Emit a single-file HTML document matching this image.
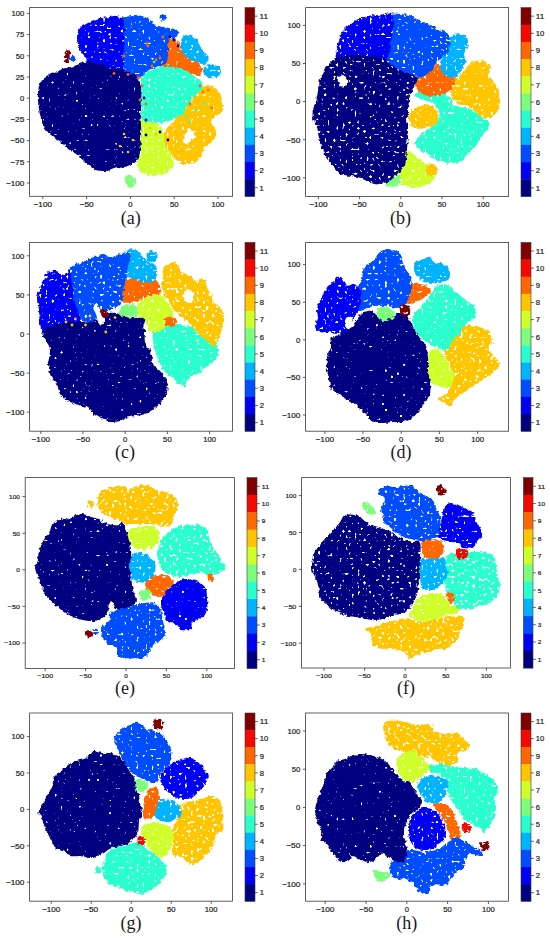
<!DOCTYPE html>
<html><head><meta charset="utf-8"><title>t-SNE</title>
<style>html,body{margin:0;padding:0;background:#fff;width:550px;height:938px;overflow:hidden}
svg{display:block}</style></head><body>
<svg width="550" height="938" viewBox="0 0 550 938" font-family="Liberation Sans, sans-serif" fill="#1e1e1e">
<defs><filter id="r0" x="-30%" y="-30%" width="160%" height="160%" color-interpolation-filters="sRGB">
<feTurbulence type="fractalNoise" baseFrequency="0.28" numOctaves="2" seed="7" result="n"/>
<feDisplacementMap in="SourceGraphic" in2="n" scale="4.5" xChannelSelector="R" yChannelSelector="G" result="d"/>
<feTurbulence type="fractalNoise" baseFrequency="0.33" numOctaves="1" seed="19" result="n2"/>
<feColorMatrix in="n2" type="matrix" values="0 0 0 0 0  0 0 0 0 0  0 0 0 0 0  0 0 0 -14 10.70" result="m"/>
<feComposite in="d" in2="m" operator="in" result="c"/>
<feGaussianBlur in="c" stdDeviation="0.35"/>
</filter><filter id="r1" x="-30%" y="-30%" width="160%" height="160%" color-interpolation-filters="sRGB">
<feTurbulence type="fractalNoise" baseFrequency="0.28" numOctaves="2" seed="7" result="n"/>
<feDisplacementMap in="SourceGraphic" in2="n" scale="4.5" xChannelSelector="R" yChannelSelector="G" result="d"/>
<feTurbulence type="fractalNoise" baseFrequency="0.33" numOctaves="1" seed="23" result="n2"/>
<feColorMatrix in="n2" type="matrix" values="0 0 0 0 0  0 0 0 0 0  0 0 0 0 0  0 0 0 -14 10.10" result="m"/>
<feComposite in="d" in2="m" operator="in" result="c"/>
<feGaussianBlur in="c" stdDeviation="0.35"/>
</filter><filter id="r2" x="-30%" y="-30%" width="160%" height="160%" color-interpolation-filters="sRGB">
<feTurbulence type="fractalNoise" baseFrequency="0.28" numOctaves="2" seed="7" result="n"/>
<feDisplacementMap in="SourceGraphic" in2="n" scale="4.5" xChannelSelector="R" yChannelSelector="G" result="d"/>
<feTurbulence type="fractalNoise" baseFrequency="0.33" numOctaves="1" seed="29" result="n2"/>
<feColorMatrix in="n2" type="matrix" values="0 0 0 0 0  0 0 0 0 0  0 0 0 0 0  0 0 0 -14 9.50" result="m"/>
<feComposite in="d" in2="m" operator="in" result="c"/>
<feGaussianBlur in="c" stdDeviation="0.35"/>
</filter></defs>
<clipPath id="clipa"><rect x="29.6" y="7.6" width="203.0" height="188.7"/></clipPath>
<g clip-path="url(#clipa)">
<path d="M180.0,102.0C181.7,99.5 185.5,99.0 188.0,97.0C190.5,95.0 192.5,91.8 195.0,90.0C197.5,88.2 200.2,86.7 203.0,86.0C205.8,85.3 209.3,85.0 212.0,86.0C214.7,87.0 217.3,89.7 219.0,92.0C220.7,94.3 221.3,97.7 222.0,100.0C222.7,102.3 223.2,103.8 223.0,106.0C222.8,108.2 223.0,110.5 221.0,113.0C219.0,115.5 212.0,118.5 211.0,121.0C210.0,123.5 214.2,125.7 215.0,128.0C215.8,130.3 216.5,132.7 216.0,135.0C215.5,137.3 213.8,139.8 212.0,142.0C210.2,144.2 207.0,145.5 205.0,148.0C203.0,150.5 202.0,154.5 200.0,157.0C198.0,159.5 196.2,161.8 193.0,163.0C189.8,164.2 184.2,165.0 181.0,164.0C177.8,163.0 176.0,159.2 174.0,157.0C172.0,154.8 170.7,153.0 169.0,151.0C167.3,149.0 165.0,147.3 164.0,145.0C163.0,142.7 162.5,139.8 163.0,137.0C163.5,134.2 165.2,130.7 167.0,128.0C168.8,125.3 172.2,123.7 174.0,121.0C175.8,118.3 177.0,115.2 178.0,112.0C179.0,108.8 178.3,104.5 180.0,102.0Z" fill="#ffc600" filter="url(#r1)"/>
<path d="M188.0,128.0C188.8,127.8 190.8,129.5 192.0,131.0C193.2,132.5 195.0,135.5 195.0,137.0C195.0,138.5 193.3,138.8 192.0,140.0C190.7,141.2 188.5,143.7 187.0,144.0C185.5,144.3 183.5,143.3 183.0,142.0C182.5,140.7 183.3,137.7 184.0,136.0C184.7,134.3 186.3,133.3 187.0,132.0C187.7,130.7 187.2,128.2 188.0,128.0Z" fill="#ffffff" filter="url(#r0)"/>
<path d="M140.0,120.0C142.0,117.5 146.7,120.0 150.0,121.0C153.3,122.0 157.7,123.8 160.0,126.0C162.3,128.2 163.2,131.0 164.0,134.0C164.8,137.0 164.0,141.0 165.0,144.0C166.0,147.0 168.7,149.3 170.0,152.0C171.3,154.7 172.7,157.3 173.0,160.0C173.3,162.7 173.2,165.8 172.0,168.0C170.8,170.2 168.3,171.8 166.0,173.0C163.7,174.2 160.7,174.7 158.0,175.0C155.3,175.3 152.7,175.3 150.0,175.0C147.3,174.7 144.0,174.5 142.0,173.0C140.0,171.5 138.7,169.8 138.0,166.0C137.3,162.2 138.0,155.0 138.0,150.0C138.0,145.0 137.7,141.0 138.0,136.0C138.3,131.0 138.0,122.5 140.0,120.0Z" fill="#ceff29" filter="url(#r1)"/>
<path d="M144.0,74.0C145.8,71.7 149.0,71.5 152.0,70.0C155.0,68.5 159.0,65.8 162.0,65.0C165.0,64.2 167.0,64.5 170.0,65.0C173.0,65.5 176.7,66.7 180.0,68.0C183.3,69.3 187.0,71.2 190.0,73.0C193.0,74.8 195.8,77.2 198.0,79.0C200.2,80.8 202.8,81.8 203.0,84.0C203.2,86.2 200.8,89.3 199.0,92.0C197.2,94.7 193.8,97.7 192.0,100.0C190.2,102.3 189.3,104.0 188.0,106.0C186.7,108.0 185.2,110.5 184.0,112.0C182.8,113.5 183.0,113.7 181.0,115.0C179.0,116.3 175.5,118.7 172.0,120.0C168.5,121.3 163.7,122.7 160.0,123.0C156.3,123.3 153.0,122.5 150.0,122.0C147.0,121.5 143.5,123.7 142.0,120.0C140.5,116.3 141.2,106.0 141.0,100.0C140.8,94.0 140.5,88.3 141.0,84.0C141.5,79.7 142.2,76.3 144.0,74.0Z" fill="#29ffce" filter="url(#r1)"/>
<path d="M167.0,40.0C168.3,38.7 172.8,38.2 175.0,39.0C177.2,39.8 178.3,42.8 180.0,45.0C181.7,47.2 183.0,49.8 185.0,52.0C187.0,54.2 189.7,56.0 192.0,58.0C194.3,60.0 197.3,62.0 199.0,64.0C200.7,66.0 202.0,68.0 202.0,70.0C202.0,72.0 200.8,75.5 199.0,76.0C197.2,76.5 193.8,74.2 191.0,73.0C188.2,71.8 184.8,70.0 182.0,69.0C179.2,68.0 176.7,67.5 174.0,67.0C171.3,66.5 168.3,66.2 166.0,66.0C163.7,65.8 160.5,67.0 160.0,66.0C159.5,65.0 162.0,62.0 163.0,60.0C164.0,58.0 165.3,56.2 166.0,54.0C166.7,51.8 166.8,49.3 167.0,47.0C167.2,44.7 165.7,41.3 167.0,40.0Z" fill="#ff6800" filter="url(#r1)"/>
<path d="M184.0,36.0C185.7,34.7 188.8,34.5 191.0,35.0C193.2,35.5 195.5,37.2 197.0,39.0C198.5,40.8 198.8,43.8 200.0,46.0C201.2,48.2 202.7,50.3 204.0,52.0C205.3,53.7 207.3,54.3 208.0,56.0C208.7,57.7 208.8,60.7 208.0,62.0C207.2,63.3 205.2,64.0 203.0,64.0C200.8,64.0 197.5,63.0 195.0,62.0C192.5,61.0 190.2,59.7 188.0,58.0C185.8,56.3 183.2,54.5 182.0,52.0C180.8,49.5 180.7,45.7 181.0,43.0C181.3,40.3 182.3,37.3 184.0,36.0Z" fill="#00b3ff" filter="url(#r1)"/>
<path d="M204.0,67.0C205.2,65.8 207.7,65.2 210.0,65.0C212.3,64.8 216.2,64.8 218.0,66.0C219.8,67.2 221.3,70.0 221.0,72.0C220.7,74.0 218.2,77.2 216.0,78.0C213.8,78.8 210.2,78.0 208.0,77.0C205.8,76.0 203.7,73.7 203.0,72.0C202.3,70.3 202.8,68.2 204.0,67.0Z" fill="#00b3ff" filter="url(#r1)"/>
<path d="M120.0,20.0C121.0,16.2 124.0,17.7 126.0,17.0C128.0,16.3 129.3,16.2 132.0,16.0C134.7,15.8 139.0,15.3 142.0,16.0C145.0,16.7 147.3,18.3 150.0,20.0C152.7,21.7 154.7,24.7 158.0,26.0C161.3,27.3 166.5,27.0 170.0,28.0C173.5,29.0 178.0,30.5 179.0,32.0C180.0,33.5 177.7,35.7 176.0,37.0C174.3,38.3 170.3,38.0 169.0,40.0C167.7,42.0 168.2,46.0 168.0,49.0C167.8,52.0 168.7,55.5 168.0,58.0C167.3,60.5 166.0,62.5 164.0,64.0C162.0,65.5 158.5,66.0 156.0,67.0C153.5,68.0 151.2,68.7 149.0,70.0C146.8,71.3 145.5,73.3 143.0,75.0C140.5,76.7 136.8,80.2 134.0,80.0C131.2,79.8 128.3,77.3 126.0,74.0C123.7,70.7 121.0,65.7 120.0,60.0C119.0,54.3 120.0,46.7 120.0,40.0C120.0,33.3 119.0,23.8 120.0,20.0Z" fill="#004cff" filter="url(#r1)"/>
<path d="M160.0,16.0C160.5,15.0 162.0,14.0 163.0,14.0C164.0,14.0 165.8,15.0 166.0,16.0C166.2,17.0 165.0,19.3 164.0,20.0C163.0,20.7 160.7,20.7 160.0,20.0C159.3,19.3 159.5,17.0 160.0,16.0Z" fill="#004cff" filter="url(#r1)"/>
<path d="M78.0,44.0C77.2,41.0 76.7,38.7 77.0,36.0C77.3,33.3 78.5,30.0 80.0,28.0C81.5,26.0 83.7,25.3 86.0,24.0C88.3,22.7 91.3,21.0 94.0,20.0C96.7,19.0 99.3,18.5 102.0,18.0C104.7,17.5 107.7,17.3 110.0,17.0C112.3,16.7 114.2,15.8 116.0,16.0C117.8,16.2 119.7,16.7 121.0,18.0C122.3,19.3 123.5,18.7 124.0,24.0C124.5,29.3 124.3,42.3 124.0,50.0C123.7,57.7 124.3,67.0 122.0,70.0C119.7,73.0 113.7,68.8 110.0,68.0C106.3,67.2 103.7,66.0 100.0,65.0C96.3,64.0 90.3,63.2 88.0,62.0C85.7,60.8 87.0,59.3 86.0,58.0C85.0,56.7 83.3,56.3 82.0,54.0C80.7,51.7 78.8,47.0 78.0,44.0Z" fill="#0000f3" filter="url(#r1)"/>
<path d="M38.0,92.0C38.3,89.0 39.0,86.3 40.0,84.0C41.0,81.7 42.3,79.7 44.0,78.0C45.7,76.3 47.7,75.2 50.0,74.0C52.3,72.8 55.3,72.0 58.0,71.0C60.7,70.0 63.3,68.8 66.0,68.0C68.7,67.2 71.3,66.8 74.0,66.0C76.7,65.2 79.7,63.7 82.0,63.0C84.3,62.3 85.0,61.8 88.0,62.0C91.0,62.2 95.5,63.0 100.0,64.0C104.5,65.0 110.3,66.7 115.0,68.0C119.7,69.3 124.2,70.3 128.0,72.0C131.8,73.7 135.8,75.0 138.0,78.0C140.2,81.0 140.5,86.3 141.0,90.0C141.5,93.7 141.2,96.7 141.0,100.0C140.8,103.3 140.0,105.8 140.0,110.0C140.0,114.2 140.8,120.0 141.0,125.0C141.2,130.0 141.2,135.5 141.0,140.0C140.8,144.5 140.5,148.7 140.0,152.0C139.5,155.3 139.3,158.0 138.0,160.0C136.7,162.0 134.3,162.8 132.0,164.0C129.7,165.2 127.0,166.2 124.0,167.0C121.0,167.8 117.0,168.3 114.0,169.0C111.0,169.7 109.0,170.8 106.0,171.0C103.0,171.2 98.7,170.8 96.0,170.0C93.3,169.2 92.0,167.7 90.0,166.0C88.0,164.3 86.3,162.0 84.0,160.0C81.7,158.0 78.7,156.0 76.0,154.0C73.3,152.0 70.7,150.0 68.0,148.0C65.3,146.0 62.7,144.0 60.0,142.0C57.3,140.0 54.3,138.0 52.0,136.0C49.7,134.0 47.7,132.3 46.0,130.0C44.3,127.7 43.0,124.7 42.0,122.0C41.0,119.3 40.7,117.3 40.0,114.0C39.3,110.7 38.3,105.7 38.0,102.0C37.7,98.3 37.7,95.0 38.0,92.0Z" fill="#000080" filter="url(#r0)"/>
<path d="M125.0,178.0C125.3,176.5 126.8,175.3 128.0,175.0C129.2,174.7 130.7,175.2 132.0,176.0C133.3,176.8 135.5,178.5 136.0,180.0C136.5,181.5 136.0,183.7 135.0,185.0C134.0,186.3 131.5,188.2 130.0,188.0C128.5,187.8 126.8,185.7 126.0,184.0C125.2,182.3 124.7,179.5 125.0,178.0Z" fill="#7bff7b" filter="url(#r1)"/>
<path d="M65.0,52.0C65.7,50.8 67.0,50.0 68.0,50.0C69.0,50.0 70.7,50.7 71.0,52.0C71.3,53.3 70.5,56.3 70.0,58.0C69.5,59.7 68.8,61.3 68.0,62.0C67.2,62.7 65.7,62.8 65.0,62.0C64.3,61.2 64.0,58.7 64.0,57.0C64.0,55.3 64.3,53.2 65.0,52.0Z" fill="#800000" filter="url(#r1)"/>
<path d="M71.0,55.0C71.7,54.3 73.2,55.2 74.0,56.0C74.8,56.8 76.2,59.0 76.0,60.0C75.8,61.0 74.0,62.0 73.0,62.0C72.0,62.0 70.3,61.2 70.0,60.0C69.7,58.8 70.3,55.7 71.0,55.0Z" fill="#004cff" filter="url(#r1)"/>
<circle cx="162.9" cy="36.9" r="1.4" fill="#ff6800"/>
<circle cx="147.0" cy="43.4" r="1.4" fill="#ff6800"/>
<circle cx="148.0" cy="46.0" r="1.4" fill="#ff6800"/>
<circle cx="124.0" cy="56.0" r="1.4" fill="#ff6800"/>
<circle cx="128.0" cy="74.5" r="1.4" fill="#ff6800"/>
<circle cx="139.4" cy="77.8" r="1.4" fill="#ff6800"/>
<circle cx="114.0" cy="73.4" r="1.4" fill="#ff6800"/>
<circle cx="138.0" cy="78.0" r="1.4" fill="#ff6800"/>
<circle cx="142.0" cy="86.0" r="1.4" fill="#ff6800"/>
<circle cx="140.0" cy="100.0" r="1.4" fill="#ff6800"/>
<circle cx="146.0" cy="104.0" r="1.4" fill="#ff6800"/>
<circle cx="156.0" cy="60.0" r="1.4" fill="#ff6800"/>
<circle cx="152.0" cy="66.0" r="1.4" fill="#ff6800"/>
<circle cx="160.0" cy="58.0" r="1.4" fill="#ff6800"/>
<circle cx="176.0" cy="44.0" r="1.4" fill="#ff6800"/>
<circle cx="172.0" cy="48.0" r="1.4" fill="#ff6800"/>
<circle cx="203.0" cy="92.0" r="1.4" fill="#ff6800"/>
<circle cx="208.0" cy="90.0" r="1.4" fill="#ff6800"/>
<circle cx="200.0" cy="86.0" r="1.4" fill="#ff6800"/>
<circle cx="212.0" cy="108.0" r="1.4" fill="#ff6800"/>
<circle cx="190.0" cy="104.0" r="1.4" fill="#ff6800"/>
<circle cx="139.0" cy="92.0" r="1.4" fill="#000080"/>
<circle cx="144.0" cy="98.0" r="1.4" fill="#000080"/>
<circle cx="140.0" cy="106.0" r="1.4" fill="#000080"/>
<circle cx="146.0" cy="120.0" r="1.4" fill="#000080"/>
<circle cx="160.0" cy="132.0" r="1.4" fill="#000080"/>
<circle cx="168.0" cy="140.0" r="1.4" fill="#000080"/>
<circle cx="146.0" cy="135.0" r="1.4" fill="#000080"/>
<circle cx="174.0" cy="40.0" r="1.4" fill="#000080"/>
<circle cx="178.0" cy="46.0" r="1.4" fill="#000080"/>
<circle cx="170.0" cy="37.0" r="1.4" fill="#000080"/>
<circle cx="128.0" cy="152.0" r="1.3" fill="#ffc600"/>
<circle cx="124.0" cy="134.0" r="1.3" fill="#ffc600"/>
<circle cx="133.0" cy="140.0" r="1.3" fill="#ffc600"/>
<circle cx="120.0" cy="146.0" r="1.3" fill="#ffc600"/>
<circle cx="150.0" cy="128.0" r="1.3" fill="#ffc600"/>
<circle cx="156.0" cy="134.0" r="1.3" fill="#ffc600"/>
<circle cx="186.0" cy="116.0" r="1.3" fill="#29ffce"/>
<circle cx="196.0" cy="110.0" r="1.3" fill="#29ffce"/>
<circle cx="204.0" cy="104.0" r="1.3" fill="#29ffce"/>
<circle cx="190.0" cy="122.0" r="1.3" fill="#29ffce"/>
<circle cx="154.0" cy="62.0" r="1.3" fill="#29ffce"/>
<circle cx="158.0" cy="70.0" r="1.3" fill="#29ffce"/>
</g>
<rect x="29.6" y="7.6" width="203.0" height="188.7" fill="none" stroke="#3a3a3a" stroke-width="0.8"/>
<line x1="42.8" y1="196.3" x2="42.8" y2="199.1" stroke="#3a3a3a" stroke-width="0.8"/>
<text x="42.80" y="206.90" font-size="7.24" text-anchor="middle" textLength="18.40" lengthAdjust="spacingAndGlyphs" stroke="#1e1e1e" stroke-width="0.2">−100</text>
<line x1="86.6" y1="196.3" x2="86.6" y2="199.1" stroke="#3a3a3a" stroke-width="0.8"/>
<text x="86.60" y="206.90" font-size="7.24" text-anchor="middle" textLength="14.14" lengthAdjust="spacingAndGlyphs" stroke="#1e1e1e" stroke-width="0.2">−50</text>
<line x1="130.4" y1="196.3" x2="130.4" y2="199.1" stroke="#3a3a3a" stroke-width="0.8"/>
<text x="130.40" y="206.90" font-size="7.24" text-anchor="middle" textLength="4.26" lengthAdjust="spacingAndGlyphs" stroke="#1e1e1e" stroke-width="0.2">0</text>
<line x1="174.2" y1="196.3" x2="174.2" y2="199.1" stroke="#3a3a3a" stroke-width="0.8"/>
<text x="174.20" y="206.90" font-size="7.24" text-anchor="middle" textLength="8.52" lengthAdjust="spacingAndGlyphs" stroke="#1e1e1e" stroke-width="0.2">50</text>
<line x1="218.0" y1="196.3" x2="218.0" y2="199.1" stroke="#3a3a3a" stroke-width="0.8"/>
<text x="218.00" y="206.90" font-size="7.24" text-anchor="middle" textLength="12.78" lengthAdjust="spacingAndGlyphs" stroke="#1e1e1e" stroke-width="0.2">100</text>
<line x1="26.8" y1="13.4" x2="29.6" y2="13.4" stroke="#3a3a3a" stroke-width="0.8"/>
<text x="24.30" y="16.21" font-size="7.24" text-anchor="end" textLength="12.78" lengthAdjust="spacingAndGlyphs" stroke="#1e1e1e" stroke-width="0.2">100</text>
<line x1="26.8" y1="34.6" x2="29.6" y2="34.6" stroke="#3a3a3a" stroke-width="0.8"/>
<text x="24.30" y="37.41" font-size="7.24" text-anchor="end" textLength="8.52" lengthAdjust="spacingAndGlyphs" stroke="#1e1e1e" stroke-width="0.2">75</text>
<line x1="26.8" y1="55.8" x2="29.6" y2="55.8" stroke="#3a3a3a" stroke-width="0.8"/>
<text x="24.30" y="58.61" font-size="7.24" text-anchor="end" textLength="8.52" lengthAdjust="spacingAndGlyphs" stroke="#1e1e1e" stroke-width="0.2">50</text>
<line x1="26.8" y1="77.0" x2="29.6" y2="77.0" stroke="#3a3a3a" stroke-width="0.8"/>
<text x="24.30" y="79.81" font-size="7.24" text-anchor="end" textLength="8.52" lengthAdjust="spacingAndGlyphs" stroke="#1e1e1e" stroke-width="0.2">25</text>
<line x1="26.8" y1="98.2" x2="29.6" y2="98.2" stroke="#3a3a3a" stroke-width="0.8"/>
<text x="24.30" y="101.01" font-size="7.24" text-anchor="end" textLength="4.26" lengthAdjust="spacingAndGlyphs" stroke="#1e1e1e" stroke-width="0.2">0</text>
<line x1="26.8" y1="119.4" x2="29.6" y2="119.4" stroke="#3a3a3a" stroke-width="0.8"/>
<text x="24.30" y="122.21" font-size="7.24" text-anchor="end" textLength="14.14" lengthAdjust="spacingAndGlyphs" stroke="#1e1e1e" stroke-width="0.2">−25</text>
<line x1="26.8" y1="140.6" x2="29.6" y2="140.6" stroke="#3a3a3a" stroke-width="0.8"/>
<text x="24.30" y="143.41" font-size="7.24" text-anchor="end" textLength="14.14" lengthAdjust="spacingAndGlyphs" stroke="#1e1e1e" stroke-width="0.2">−50</text>
<line x1="26.8" y1="161.8" x2="29.6" y2="161.8" stroke="#3a3a3a" stroke-width="0.8"/>
<text x="24.30" y="164.61" font-size="7.24" text-anchor="end" textLength="14.14" lengthAdjust="spacingAndGlyphs" stroke="#1e1e1e" stroke-width="0.2">−75</text>
<line x1="26.8" y1="183.0" x2="29.6" y2="183.0" stroke="#3a3a3a" stroke-width="0.8"/>
<text x="24.30" y="185.81" font-size="7.24" text-anchor="end" textLength="18.40" lengthAdjust="spacingAndGlyphs" stroke="#1e1e1e" stroke-width="0.2">−100</text>
<rect x="245.0" y="7.60" width="9.8" height="17.45" fill="#800000"/>
<line x1="254.8" y1="16.18" x2="257.6" y2="16.18" stroke="#3a3a3a" stroke-width="0.8"/>
<text x="259.60" y="18.99" font-size="7.24" text-anchor="start" textLength="8.52" lengthAdjust="spacingAndGlyphs" stroke="#1e1e1e" stroke-width="0.2">11</text>
<rect x="245.0" y="24.75" width="9.8" height="17.45" fill="#f30900"/>
<line x1="254.8" y1="33.33" x2="257.6" y2="33.33" stroke="#3a3a3a" stroke-width="0.8"/>
<text x="259.60" y="36.15" font-size="7.24" text-anchor="start" textLength="8.52" lengthAdjust="spacingAndGlyphs" stroke="#1e1e1e" stroke-width="0.2">10</text>
<rect x="245.0" y="41.91" width="9.8" height="17.45" fill="#ff6800"/>
<line x1="254.8" y1="50.49" x2="257.6" y2="50.49" stroke="#3a3a3a" stroke-width="0.8"/>
<text x="259.60" y="53.30" font-size="7.24" text-anchor="start" textLength="4.26" lengthAdjust="spacingAndGlyphs" stroke="#1e1e1e" stroke-width="0.2">9</text>
<rect x="245.0" y="59.06" width="9.8" height="17.45" fill="#ffc600"/>
<line x1="254.8" y1="67.64" x2="257.6" y2="67.64" stroke="#3a3a3a" stroke-width="0.8"/>
<text x="259.60" y="70.45" font-size="7.24" text-anchor="start" textLength="4.26" lengthAdjust="spacingAndGlyphs" stroke="#1e1e1e" stroke-width="0.2">8</text>
<rect x="245.0" y="76.22" width="9.8" height="17.45" fill="#ceff29"/>
<line x1="254.8" y1="84.80" x2="257.6" y2="84.80" stroke="#3a3a3a" stroke-width="0.8"/>
<text x="259.60" y="87.61" font-size="7.24" text-anchor="start" textLength="4.26" lengthAdjust="spacingAndGlyphs" stroke="#1e1e1e" stroke-width="0.2">7</text>
<rect x="245.0" y="93.37" width="9.8" height="17.45" fill="#7bff7b"/>
<line x1="254.8" y1="101.95" x2="257.6" y2="101.95" stroke="#3a3a3a" stroke-width="0.8"/>
<text x="259.60" y="104.76" font-size="7.24" text-anchor="start" textLength="4.26" lengthAdjust="spacingAndGlyphs" stroke="#1e1e1e" stroke-width="0.2">6</text>
<rect x="245.0" y="110.53" width="9.8" height="17.45" fill="#29ffce"/>
<line x1="254.8" y1="119.10" x2="257.6" y2="119.10" stroke="#3a3a3a" stroke-width="0.8"/>
<text x="259.60" y="121.92" font-size="7.24" text-anchor="start" textLength="4.26" lengthAdjust="spacingAndGlyphs" stroke="#1e1e1e" stroke-width="0.2">5</text>
<rect x="245.0" y="127.68" width="9.8" height="17.45" fill="#00b3ff"/>
<line x1="254.8" y1="136.26" x2="257.6" y2="136.26" stroke="#3a3a3a" stroke-width="0.8"/>
<text x="259.60" y="139.07" font-size="7.24" text-anchor="start" textLength="4.26" lengthAdjust="spacingAndGlyphs" stroke="#1e1e1e" stroke-width="0.2">4</text>
<rect x="245.0" y="144.84" width="9.8" height="17.45" fill="#004cff"/>
<line x1="254.8" y1="153.41" x2="257.6" y2="153.41" stroke="#3a3a3a" stroke-width="0.8"/>
<text x="259.60" y="156.23" font-size="7.24" text-anchor="start" textLength="4.26" lengthAdjust="spacingAndGlyphs" stroke="#1e1e1e" stroke-width="0.2">3</text>
<rect x="245.0" y="161.99" width="9.8" height="17.45" fill="#0000f3"/>
<line x1="254.8" y1="170.57" x2="257.6" y2="170.57" stroke="#3a3a3a" stroke-width="0.8"/>
<text x="259.60" y="173.38" font-size="7.24" text-anchor="start" textLength="4.26" lengthAdjust="spacingAndGlyphs" stroke="#1e1e1e" stroke-width="0.2">2</text>
<rect x="245.0" y="179.15" width="9.8" height="17.45" fill="#000080"/>
<line x1="254.8" y1="187.72" x2="257.6" y2="187.72" stroke="#3a3a3a" stroke-width="0.8"/>
<text x="259.60" y="190.54" font-size="7.24" text-anchor="start" textLength="4.26" lengthAdjust="spacingAndGlyphs" stroke="#1e1e1e" stroke-width="0.2">1</text>
<rect x="245.0" y="7.6" width="9.8" height="188.7" fill="none" stroke="#3a3a3a" stroke-width="0.6"/>
<text x="130.7" y="223.5" font-size="18" text-anchor="middle" font-family="Liberation Serif, serif" fill="#1a1a1a">(a)</text>
<clipPath id="clipb"><rect x="305.6" y="7.6" width="203.0" height="188.8"/></clipPath>
<g clip-path="url(#clipb)">
<path d="M416.0,97.0C414.0,95.0 418.0,92.5 420.0,91.0C422.0,89.5 425.0,88.0 428.0,88.0C431.0,88.0 434.3,89.5 438.0,91.0C441.7,92.5 447.5,94.7 450.0,97.0C452.5,99.3 451.3,103.5 453.0,105.0C454.7,106.5 456.5,105.0 460.0,106.0C463.5,107.0 470.0,109.0 474.0,111.0C478.0,113.0 481.3,115.8 484.0,118.0C486.7,120.2 489.7,121.8 490.0,124.0C490.3,126.2 487.7,128.7 486.0,131.0C484.3,133.3 481.7,135.5 480.0,138.0C478.3,140.5 478.3,143.0 476.0,146.0C473.7,149.0 468.7,153.3 466.0,156.0C463.3,158.7 462.7,160.8 460.0,162.0C457.3,163.2 454.0,163.3 450.0,163.0C446.0,162.7 439.7,161.5 436.0,160.0C432.3,158.5 430.7,155.7 428.0,154.0C425.3,152.3 422.2,151.8 420.0,150.0C417.8,148.2 415.0,145.5 415.0,143.0C415.0,140.5 417.5,137.5 420.0,135.0C422.5,132.5 427.0,130.3 430.0,128.0C433.0,125.7 436.5,123.8 438.0,121.0C439.5,118.2 440.0,114.0 439.0,111.0C438.0,108.0 435.8,105.3 432.0,103.0C428.2,100.7 418.0,99.0 416.0,97.0Z" fill="#29ffce" filter="url(#r1)"/>
<path d="M474.0,61.0C476.7,60.2 481.3,60.0 484.0,61.0C486.7,62.0 489.3,64.7 490.0,67.0C490.7,69.3 487.3,72.3 488.0,75.0C488.7,77.7 492.3,80.3 494.0,83.0C495.7,85.7 497.0,88.0 498.0,91.0C499.0,94.0 500.0,97.8 500.0,101.0C500.0,104.2 499.0,107.7 498.0,110.0C497.0,112.3 496.0,113.7 494.0,115.0C492.0,116.3 489.0,118.5 486.0,118.0C483.0,117.5 479.0,114.0 476.0,112.0C473.0,110.0 471.0,107.3 468.0,106.0C465.0,104.7 460.7,105.3 458.0,104.0C455.3,102.7 453.2,100.3 452.0,98.0C450.8,95.7 450.7,92.7 451.0,90.0C451.3,87.3 452.5,84.5 454.0,82.0C455.5,79.5 457.7,77.7 460.0,75.0C462.3,72.3 465.7,68.3 468.0,66.0C470.3,63.7 471.3,61.8 474.0,61.0Z" fill="#ffc600" filter="url(#r1)"/>
<path d="M412.0,110.0C414.5,107.5 420.7,105.7 424.0,105.0C427.3,104.3 429.7,104.5 432.0,106.0C434.3,107.5 437.3,111.0 438.0,114.0C438.7,117.0 438.0,121.7 436.0,124.0C434.0,126.3 429.7,127.3 426.0,128.0C422.3,128.7 416.8,129.3 414.0,128.0C411.2,126.7 409.3,123.0 409.0,120.0C408.7,117.0 409.5,112.5 412.0,110.0Z" fill="#ffc600" filter="url(#r1)"/>
<path d="M402.0,153.0C403.8,151.5 405.7,150.3 408.0,151.0C410.3,151.7 413.0,155.0 416.0,157.0C419.0,159.0 423.0,161.3 426.0,163.0C429.0,164.7 432.2,165.5 434.0,167.0C435.8,168.5 437.2,169.8 437.0,172.0C436.8,174.2 435.2,177.7 433.0,180.0C430.8,182.3 427.5,184.7 424.0,186.0C420.5,187.3 415.7,188.2 412.0,188.0C408.3,187.8 404.7,186.7 402.0,185.0C399.3,183.3 397.3,180.8 396.0,178.0C394.7,175.2 393.8,171.0 394.0,168.0C394.2,165.0 395.7,162.5 397.0,160.0C398.3,157.5 400.2,154.5 402.0,153.0Z" fill="#ceff29" filter="url(#r1)"/>
<path d="M426.0,166.0C427.0,164.7 430.2,163.7 432.0,164.0C433.8,164.3 436.2,166.3 437.0,168.0C437.8,169.7 438.2,172.7 437.0,174.0C435.8,175.3 431.8,176.3 430.0,176.0C428.2,175.7 426.7,173.7 426.0,172.0C425.3,170.3 425.0,167.3 426.0,166.0Z" fill="#ffc600" filter="url(#r1)"/>
<path d="M385.0,178.0C386.2,176.3 389.7,174.5 392.0,174.0C394.3,173.5 397.7,173.5 399.0,175.0C400.3,176.5 401.2,181.0 400.0,183.0C398.8,185.0 394.5,186.8 392.0,187.0C389.5,187.2 386.2,185.5 385.0,184.0C383.8,182.5 383.8,179.7 385.0,178.0Z" fill="#7bff7b" filter="url(#r1)"/>
<path d="M432.0,64.0C435.5,62.5 439.0,65.8 442.0,67.0C445.0,68.2 447.7,68.8 450.0,71.0C452.3,73.2 456.0,76.8 456.0,80.0C456.0,83.2 452.7,87.5 450.0,90.0C447.3,92.5 443.7,94.0 440.0,95.0C436.3,96.0 431.3,96.5 428.0,96.0C424.7,95.5 422.2,94.0 420.0,92.0C417.8,90.0 414.8,86.7 415.0,84.0C415.2,81.3 418.2,79.3 421.0,76.0C423.8,72.7 428.5,65.5 432.0,64.0Z" fill="#ff6800" filter="url(#r1)"/>
<path d="M449.0,38.0C450.8,35.5 455.2,34.3 458.0,34.0C460.8,33.7 464.3,34.2 466.0,36.0C467.7,37.8 468.3,42.0 468.0,45.0C467.7,48.0 464.3,51.3 464.0,54.0C463.7,56.7 466.3,58.3 466.0,61.0C465.7,63.7 463.7,67.5 462.0,70.0C460.3,72.5 458.3,74.8 456.0,76.0C453.7,77.2 450.7,78.3 448.0,77.0C445.3,75.7 441.0,71.3 440.0,68.0C439.0,64.7 440.8,60.2 442.0,57.0C443.2,53.8 445.8,52.2 447.0,49.0C448.2,45.8 447.2,40.5 449.0,38.0Z" fill="#00b3ff" filter="url(#r1)"/>
<path d="M390.0,15.0C391.8,12.3 396.3,13.8 400.0,14.0C403.7,14.2 408.3,14.7 412.0,16.0C415.7,17.3 418.7,20.3 422.0,22.0C425.3,23.7 429.0,24.7 432.0,26.0C435.0,27.3 437.3,28.5 440.0,30.0C442.7,31.5 446.3,32.8 448.0,35.0C449.7,37.2 450.0,40.3 450.0,43.0C450.0,45.7 449.7,48.3 448.0,51.0C446.3,53.7 442.3,56.3 440.0,59.0C437.7,61.7 436.0,64.5 434.0,67.0C432.0,69.5 430.3,72.3 428.0,74.0C425.7,75.7 422.7,76.8 420.0,77.0C417.3,77.2 414.7,75.7 412.0,75.0C409.3,74.3 406.8,74.3 404.0,73.0C401.2,71.7 398.2,69.3 395.0,67.0C391.8,64.7 386.2,62.7 385.0,59.0C383.8,55.3 387.3,49.8 388.0,45.0C388.7,40.2 388.7,35.0 389.0,30.0C389.3,25.0 388.2,17.7 390.0,15.0Z" fill="#004cff" filter="url(#r1)"/>
<path d="M340.0,37.0C341.0,33.8 341.2,33.2 343.0,31.0C344.8,28.8 348.3,26.0 351.0,24.0C353.7,22.0 356.3,20.3 359.0,19.0C361.7,17.7 364.0,16.7 367.0,16.0C370.0,15.3 374.0,15.3 377.0,15.0C380.0,14.7 382.5,14.0 385.0,14.0C387.5,14.0 390.7,12.3 392.0,15.0C393.3,17.7 393.3,25.0 393.0,30.0C392.7,35.0 391.0,40.3 390.0,45.0C389.0,49.7 390.3,55.8 387.0,58.0C383.7,60.2 375.3,58.2 370.0,58.0C364.7,57.8 360.5,56.8 355.0,57.0C349.5,57.2 340.0,60.2 337.0,59.0C334.0,57.8 336.5,53.7 337.0,50.0C337.5,46.3 339.0,40.2 340.0,37.0Z" fill="#0000f3" filter="url(#r1)"/>
<path d="M337.0,57.0C334.3,58.3 331.2,61.7 329.0,64.0C326.8,66.3 325.5,68.3 324.0,71.0C322.5,73.7 321.0,76.7 320.0,80.0C319.0,83.3 318.7,87.5 318.0,91.0C317.3,94.5 316.8,97.8 316.0,101.0C315.2,104.2 313.5,107.2 313.0,110.0C312.5,112.8 312.3,115.2 313.0,118.0C313.7,120.8 316.0,123.7 317.0,127.0C318.0,130.3 318.3,134.8 319.0,138.0C319.7,141.2 320.0,143.0 321.0,146.0C322.0,149.0 323.0,152.7 325.0,156.0C327.0,159.3 330.3,163.0 333.0,166.0C335.7,169.0 338.0,172.3 341.0,174.0C344.0,175.7 347.7,175.3 351.0,176.0C354.3,176.7 357.7,177.0 361.0,178.0C364.3,179.0 367.3,181.0 371.0,182.0C374.7,183.0 379.7,184.3 383.0,184.0C386.3,183.7 388.3,182.0 391.0,180.0C393.7,178.0 396.7,174.7 399.0,172.0C401.3,169.3 403.7,167.7 405.0,164.0C406.3,160.3 406.5,155.7 407.0,150.0C407.5,144.3 407.8,136.7 408.0,130.0C408.2,123.3 407.7,115.7 408.0,110.0C408.3,104.3 409.0,100.0 410.0,96.0C411.0,92.0 412.7,89.0 414.0,86.0C415.3,83.0 418.7,80.0 418.0,78.0C417.3,76.0 413.0,75.3 410.0,74.0C407.0,72.7 403.2,71.7 400.0,70.0C396.8,68.3 393.5,66.0 391.0,64.0C388.5,62.0 388.5,59.3 385.0,58.0C381.5,56.7 375.0,56.5 370.0,56.0C365.0,55.5 359.2,55.0 355.0,55.0C350.8,55.0 348.0,55.7 345.0,56.0C342.0,56.3 339.7,55.7 337.0,57.0Z" fill="#000080" filter="url(#r1)"/>
<path d="M338.0,78.0C338.5,76.0 341.5,74.8 343.0,75.0C344.5,75.2 346.5,77.2 347.0,79.0C347.5,80.8 347.2,84.7 346.0,86.0C344.8,87.3 341.3,88.3 340.0,87.0C338.7,85.7 337.5,80.0 338.0,78.0Z" fill="#ffffff" filter="url(#r0)"/>
</g>
<rect x="305.6" y="7.6" width="203.0" height="188.8" fill="none" stroke="#3a3a3a" stroke-width="0.8"/>
<line x1="318.4" y1="196.4" x2="318.4" y2="199.2" stroke="#3a3a3a" stroke-width="0.8"/>
<text x="318.40" y="207.00" font-size="7.24" text-anchor="middle" textLength="18.40" lengthAdjust="spacingAndGlyphs" stroke="#1e1e1e" stroke-width="0.2">−100</text>
<line x1="359.6" y1="196.4" x2="359.6" y2="199.2" stroke="#3a3a3a" stroke-width="0.8"/>
<text x="359.60" y="207.00" font-size="7.24" text-anchor="middle" textLength="14.14" lengthAdjust="spacingAndGlyphs" stroke="#1e1e1e" stroke-width="0.2">−50</text>
<line x1="400.8" y1="196.4" x2="400.8" y2="199.2" stroke="#3a3a3a" stroke-width="0.8"/>
<text x="400.80" y="207.00" font-size="7.24" text-anchor="middle" textLength="4.26" lengthAdjust="spacingAndGlyphs" stroke="#1e1e1e" stroke-width="0.2">0</text>
<line x1="442.0" y1="196.4" x2="442.0" y2="199.2" stroke="#3a3a3a" stroke-width="0.8"/>
<text x="442.00" y="207.00" font-size="7.24" text-anchor="middle" textLength="8.52" lengthAdjust="spacingAndGlyphs" stroke="#1e1e1e" stroke-width="0.2">50</text>
<line x1="483.2" y1="196.4" x2="483.2" y2="199.2" stroke="#3a3a3a" stroke-width="0.8"/>
<text x="483.20" y="207.00" font-size="7.24" text-anchor="middle" textLength="12.78" lengthAdjust="spacingAndGlyphs" stroke="#1e1e1e" stroke-width="0.2">100</text>
<line x1="302.8" y1="25.4" x2="305.6" y2="25.4" stroke="#3a3a3a" stroke-width="0.8"/>
<text x="300.30" y="28.21" font-size="7.24" text-anchor="end" textLength="12.78" lengthAdjust="spacingAndGlyphs" stroke="#1e1e1e" stroke-width="0.2">100</text>
<line x1="302.8" y1="63.5" x2="305.6" y2="63.5" stroke="#3a3a3a" stroke-width="0.8"/>
<text x="300.30" y="66.31" font-size="7.24" text-anchor="end" textLength="8.52" lengthAdjust="spacingAndGlyphs" stroke="#1e1e1e" stroke-width="0.2">50</text>
<line x1="302.8" y1="101.6" x2="305.6" y2="101.6" stroke="#3a3a3a" stroke-width="0.8"/>
<text x="300.30" y="104.41" font-size="7.24" text-anchor="end" textLength="4.26" lengthAdjust="spacingAndGlyphs" stroke="#1e1e1e" stroke-width="0.2">0</text>
<line x1="302.8" y1="139.7" x2="305.6" y2="139.7" stroke="#3a3a3a" stroke-width="0.8"/>
<text x="300.30" y="142.51" font-size="7.24" text-anchor="end" textLength="14.14" lengthAdjust="spacingAndGlyphs" stroke="#1e1e1e" stroke-width="0.2">−50</text>
<line x1="302.8" y1="177.8" x2="305.6" y2="177.8" stroke="#3a3a3a" stroke-width="0.8"/>
<text x="300.30" y="180.61" font-size="7.24" text-anchor="end" textLength="18.40" lengthAdjust="spacingAndGlyphs" stroke="#1e1e1e" stroke-width="0.2">−100</text>
<rect x="521.0" y="7.60" width="10.0" height="17.46" fill="#800000"/>
<line x1="531.0" y1="16.18" x2="533.8" y2="16.18" stroke="#3a3a3a" stroke-width="0.8"/>
<text x="535.80" y="19.00" font-size="7.24" text-anchor="start" textLength="8.52" lengthAdjust="spacingAndGlyphs" stroke="#1e1e1e" stroke-width="0.2">11</text>
<rect x="521.0" y="24.76" width="10.0" height="17.46" fill="#f30900"/>
<line x1="531.0" y1="33.35" x2="533.8" y2="33.35" stroke="#3a3a3a" stroke-width="0.8"/>
<text x="535.80" y="36.16" font-size="7.24" text-anchor="start" textLength="8.52" lengthAdjust="spacingAndGlyphs" stroke="#1e1e1e" stroke-width="0.2">10</text>
<rect x="521.0" y="41.93" width="10.0" height="17.46" fill="#ff6800"/>
<line x1="531.0" y1="50.51" x2="533.8" y2="50.51" stroke="#3a3a3a" stroke-width="0.8"/>
<text x="535.80" y="53.32" font-size="7.24" text-anchor="start" textLength="4.26" lengthAdjust="spacingAndGlyphs" stroke="#1e1e1e" stroke-width="0.2">9</text>
<rect x="521.0" y="59.09" width="10.0" height="17.46" fill="#ffc600"/>
<line x1="531.0" y1="67.67" x2="533.8" y2="67.67" stroke="#3a3a3a" stroke-width="0.8"/>
<text x="535.80" y="70.49" font-size="7.24" text-anchor="start" textLength="4.26" lengthAdjust="spacingAndGlyphs" stroke="#1e1e1e" stroke-width="0.2">8</text>
<rect x="521.0" y="76.25" width="10.0" height="17.46" fill="#ceff29"/>
<line x1="531.0" y1="84.84" x2="533.8" y2="84.84" stroke="#3a3a3a" stroke-width="0.8"/>
<text x="535.80" y="87.65" font-size="7.24" text-anchor="start" textLength="4.26" lengthAdjust="spacingAndGlyphs" stroke="#1e1e1e" stroke-width="0.2">7</text>
<rect x="521.0" y="93.42" width="10.0" height="17.46" fill="#7bff7b"/>
<line x1="531.0" y1="102.00" x2="533.8" y2="102.00" stroke="#3a3a3a" stroke-width="0.8"/>
<text x="535.80" y="104.81" font-size="7.24" text-anchor="start" textLength="4.26" lengthAdjust="spacingAndGlyphs" stroke="#1e1e1e" stroke-width="0.2">6</text>
<rect x="521.0" y="110.58" width="10.0" height="17.46" fill="#29ffce"/>
<line x1="531.0" y1="119.16" x2="533.8" y2="119.16" stroke="#3a3a3a" stroke-width="0.8"/>
<text x="535.80" y="121.98" font-size="7.24" text-anchor="start" textLength="4.26" lengthAdjust="spacingAndGlyphs" stroke="#1e1e1e" stroke-width="0.2">5</text>
<rect x="521.0" y="127.75" width="10.0" height="17.46" fill="#00b3ff"/>
<line x1="531.0" y1="136.33" x2="533.8" y2="136.33" stroke="#3a3a3a" stroke-width="0.8"/>
<text x="535.80" y="139.14" font-size="7.24" text-anchor="start" textLength="4.26" lengthAdjust="spacingAndGlyphs" stroke="#1e1e1e" stroke-width="0.2">4</text>
<rect x="521.0" y="144.91" width="10.0" height="17.46" fill="#004cff"/>
<line x1="531.0" y1="153.49" x2="533.8" y2="153.49" stroke="#3a3a3a" stroke-width="0.8"/>
<text x="535.80" y="156.30" font-size="7.24" text-anchor="start" textLength="4.26" lengthAdjust="spacingAndGlyphs" stroke="#1e1e1e" stroke-width="0.2">3</text>
<rect x="521.0" y="162.07" width="10.0" height="17.46" fill="#0000f3"/>
<line x1="531.0" y1="170.65" x2="533.8" y2="170.65" stroke="#3a3a3a" stroke-width="0.8"/>
<text x="535.80" y="173.47" font-size="7.24" text-anchor="start" textLength="4.26" lengthAdjust="spacingAndGlyphs" stroke="#1e1e1e" stroke-width="0.2">2</text>
<rect x="521.0" y="179.24" width="10.0" height="17.46" fill="#000080"/>
<line x1="531.0" y1="187.82" x2="533.8" y2="187.82" stroke="#3a3a3a" stroke-width="0.8"/>
<text x="535.80" y="190.63" font-size="7.24" text-anchor="start" textLength="4.26" lengthAdjust="spacingAndGlyphs" stroke="#1e1e1e" stroke-width="0.2">1</text>
<rect x="521.0" y="7.6" width="10.0" height="188.8" fill="none" stroke="#3a3a3a" stroke-width="0.6"/>
<text x="400.5" y="223.5" font-size="18" text-anchor="middle" font-family="Liberation Serif, serif" fill="#1a1a1a">(b)</text>
<clipPath id="clipc"><rect x="29.6" y="242.4" width="202.8" height="188.8"/></clipPath>
<g clip-path="url(#clipc)">
<path d="M153.0,330.0C155.0,327.8 161.0,328.0 165.0,327.0C169.0,326.0 173.7,324.2 177.0,324.0C180.3,323.8 182.5,325.5 185.0,326.0C187.5,326.5 189.8,325.8 192.0,327.0C194.2,328.2 195.8,331.2 198.0,333.0C200.2,334.8 202.5,336.8 205.0,338.0C207.5,339.2 211.0,339.0 213.0,340.0C215.0,341.0 216.2,341.7 217.0,344.0C217.8,346.3 218.5,351.2 218.0,354.0C217.5,356.8 215.8,359.0 214.0,361.0C212.2,363.0 209.2,364.2 207.0,366.0C204.8,367.8 203.3,370.3 201.0,372.0C198.7,373.7 195.3,374.7 193.0,376.0C190.7,377.3 188.3,378.3 187.0,380.0C185.7,381.7 186.3,385.3 185.0,386.0C183.7,386.7 181.0,385.3 179.0,384.0C177.0,382.7 175.3,380.0 173.0,378.0C170.7,376.0 167.3,374.7 165.0,372.0C162.7,369.3 160.7,365.7 159.0,362.0C157.3,358.3 156.0,353.7 155.0,350.0C154.0,346.3 153.3,343.3 153.0,340.0C152.7,336.7 151.0,332.2 153.0,330.0Z" fill="#29ffce" filter="url(#r1)"/>
<path d="M163.0,270.0C163.5,267.7 163.3,267.3 165.0,266.0C166.7,264.7 170.7,262.2 173.0,262.0C175.3,261.8 177.7,263.3 179.0,265.0C180.3,266.7 179.0,270.2 181.0,272.0C183.0,273.8 188.7,274.3 191.0,276.0C193.3,277.7 193.7,281.5 195.0,282.0C196.3,282.5 197.3,279.3 199.0,279.0C200.7,278.7 203.7,278.5 205.0,280.0C206.3,281.5 206.0,286.0 207.0,288.0C208.0,290.0 210.0,289.7 211.0,292.0C212.0,294.3 211.7,299.7 213.0,302.0C214.3,304.3 217.3,304.3 219.0,306.0C220.7,307.7 222.2,309.3 223.0,312.0C223.8,314.7 224.3,318.7 224.0,322.0C223.7,325.3 222.0,329.0 221.0,332.0C220.0,335.0 219.0,337.5 218.0,340.0C217.0,342.5 216.3,346.3 215.0,347.0C213.7,347.7 211.8,345.5 210.0,344.0C208.2,342.5 206.0,339.8 204.0,338.0C202.0,336.2 200.2,335.0 198.0,333.0C195.8,331.0 193.5,328.5 191.0,326.0C188.5,323.5 185.7,320.3 183.0,318.0C180.3,315.7 177.3,314.7 175.0,312.0C172.7,309.3 171.0,305.3 169.0,302.0C167.0,298.7 164.2,295.7 163.0,292.0C161.8,288.3 162.0,283.7 162.0,280.0C162.0,276.3 162.5,272.3 163.0,270.0Z" fill="#ffc600" filter="url(#r2)"/>
<path d="M184.0,291.0C185.2,289.3 189.3,288.8 191.0,290.0C192.7,291.2 194.2,295.8 194.0,298.0C193.8,300.2 191.7,302.7 190.0,303.0C188.3,303.3 185.0,302.0 184.0,300.0C183.0,298.0 182.8,292.7 184.0,291.0Z" fill="#ffffff" filter="url(#r0)"/>
<path d="M141.0,300.0C143.3,298.0 147.7,296.8 151.0,296.0C154.3,295.2 158.3,294.0 161.0,295.0C163.7,296.0 165.0,299.2 167.0,302.0C169.0,304.8 172.2,308.7 173.0,312.0C173.8,315.3 173.2,319.3 172.0,322.0C170.8,324.7 168.8,326.3 166.0,328.0C163.2,329.7 157.8,331.7 155.0,332.0C152.2,332.3 150.7,331.7 149.0,330.0C147.3,328.3 146.7,324.3 145.0,322.0C143.3,319.7 140.3,318.3 139.0,316.0C137.7,313.7 136.7,310.7 137.0,308.0C137.3,305.3 138.7,302.0 141.0,300.0Z" fill="#ceff29" filter="url(#r1)"/>
<path d="M122.0,306.0C123.8,304.3 127.7,304.0 130.0,304.0C132.3,304.0 134.7,304.5 136.0,306.0C137.3,307.5 138.3,310.8 138.0,313.0C137.7,315.2 136.2,318.0 134.0,319.0C131.8,320.0 127.5,319.8 125.0,319.0C122.5,318.2 119.5,316.2 119.0,314.0C118.5,311.8 120.2,307.7 122.0,306.0Z" fill="#7bff7b" filter="url(#r1)"/>
<path d="M165.0,318.0C166.0,316.5 170.0,316.5 172.0,317.0C174.0,317.5 176.7,319.5 177.0,321.0C177.3,322.5 175.8,325.2 174.0,326.0C172.2,326.8 167.5,327.3 166.0,326.0C164.5,324.7 164.0,319.5 165.0,318.0Z" fill="#ff6800" filter="url(#r1)"/>
<path d="M122.0,280.0C125.2,277.8 132.5,279.5 137.0,279.0C141.5,278.5 145.7,276.7 149.0,277.0C152.3,277.3 155.0,279.0 157.0,281.0C159.0,283.0 160.7,286.8 161.0,289.0C161.3,291.2 161.0,292.8 159.0,294.0C157.0,295.2 152.0,295.0 149.0,296.0C146.0,297.0 143.7,299.0 141.0,300.0C138.3,301.0 136.2,301.7 133.0,302.0C129.8,302.3 124.5,303.7 122.0,302.0C119.5,300.3 118.0,295.7 118.0,292.0C118.0,288.3 118.8,282.2 122.0,280.0Z" fill="#ff6800" filter="url(#r1)"/>
<path d="M124.0,262.0C124.0,259.0 123.3,256.0 124.0,254.0C124.7,252.0 126.2,250.8 128.0,250.0C129.8,249.2 132.8,248.2 135.0,249.0C137.2,249.8 139.0,253.0 141.0,255.0C143.0,257.0 144.7,259.3 147.0,261.0C149.3,262.7 153.3,262.8 155.0,265.0C156.7,267.2 157.3,271.2 157.0,274.0C156.7,276.8 155.0,280.7 153.0,282.0C151.0,283.3 147.7,282.3 145.0,282.0C142.3,281.7 139.7,280.7 137.0,280.0C134.3,279.3 131.2,279.3 129.0,278.0C126.8,276.7 124.8,274.7 124.0,272.0C123.2,269.3 124.0,265.0 124.0,262.0Z" fill="#00b3ff" filter="url(#r1)"/>
<path d="M147.0,254.0C147.8,252.5 150.3,251.2 152.0,251.0C153.7,250.8 156.2,251.7 157.0,253.0C157.8,254.3 157.8,257.5 157.0,259.0C156.2,260.5 153.7,261.8 152.0,262.0C150.3,262.2 147.8,261.3 147.0,260.0C146.2,258.7 146.2,255.5 147.0,254.0Z" fill="#00b3ff" filter="url(#r1)"/>
<path d="M70.0,268.0C71.3,264.5 73.7,265.0 76.0,264.0C78.3,263.0 81.7,262.8 84.0,262.0C86.3,261.2 87.7,260.0 90.0,259.0C92.3,258.0 95.7,256.7 98.0,256.0C100.3,255.3 102.0,254.8 104.0,255.0C106.0,255.2 107.7,257.0 110.0,257.0C112.3,257.0 115.7,255.7 118.0,255.0C120.3,254.3 122.3,253.7 124.0,253.0C125.7,252.3 127.0,250.5 128.0,251.0C129.0,251.5 130.0,253.5 130.0,256.0C130.0,258.5 128.7,262.7 128.0,266.0C127.3,269.3 126.7,272.0 126.0,276.0C125.3,280.0 125.0,285.3 124.0,290.0C123.0,294.7 122.3,300.7 120.0,304.0C117.7,307.3 113.3,307.7 110.0,310.0C106.7,312.3 103.3,316.0 100.0,318.0C96.7,320.0 93.3,322.0 90.0,322.0C86.7,322.0 83.0,321.7 80.0,318.0C77.0,314.3 74.0,305.5 72.0,300.0C70.0,294.5 68.3,290.3 68.0,285.0C67.7,279.7 68.7,271.5 70.0,268.0Z" fill="#004cff" filter="url(#r1)"/>
<path d="M48.0,272.0C50.0,270.8 53.3,270.5 56.0,271.0C58.7,271.5 61.7,275.0 64.0,275.0C66.3,275.0 68.7,269.3 70.0,271.0C71.3,272.7 71.3,280.2 72.0,285.0C72.7,289.8 72.7,294.5 74.0,300.0C75.3,305.5 79.8,313.7 80.0,318.0C80.2,322.3 78.3,324.0 75.0,326.0C71.7,328.0 65.2,328.8 60.0,330.0C54.8,331.2 47.3,334.0 44.0,333.0C40.7,332.0 40.8,327.8 40.0,324.0C39.2,320.2 39.5,314.3 39.0,310.0C38.5,305.7 36.8,301.7 37.0,298.0C37.2,294.3 38.8,291.3 40.0,288.0C41.2,284.7 42.7,280.7 44.0,278.0C45.3,275.3 46.0,273.2 48.0,272.0Z" fill="#0000f3" filter="url(#r1)"/>
<path d="M42.0,332.0C42.7,329.7 45.3,327.7 50.0,326.0C54.7,324.3 63.3,322.7 70.0,322.0C76.7,321.3 84.0,323.3 90.0,322.0C96.0,320.7 101.7,315.5 106.0,314.0C110.3,312.5 112.7,312.5 116.0,313.0C119.3,313.5 122.7,316.2 126.0,317.0C129.3,317.8 133.2,317.8 136.0,318.0C138.8,318.2 141.5,316.0 143.0,318.0C144.5,320.0 144.7,326.0 145.0,330.0C145.3,334.0 144.0,338.3 145.0,342.0C146.0,345.7 149.7,348.3 151.0,352.0C152.3,355.7 151.3,360.7 153.0,364.0C154.7,367.3 158.7,369.0 161.0,372.0C163.3,375.0 166.0,378.7 167.0,382.0C168.0,385.3 167.7,389.0 167.0,392.0C166.3,395.0 165.0,397.3 163.0,400.0C161.0,402.7 158.0,405.7 155.0,408.0C152.0,410.3 148.3,412.7 145.0,414.0C141.7,415.3 138.3,415.3 135.0,416.0C131.7,416.7 127.5,417.2 125.0,418.0C122.5,418.8 122.5,420.3 120.0,421.0C117.5,421.7 113.0,422.5 110.0,422.0C107.0,421.5 104.7,419.3 102.0,418.0C99.3,416.7 96.3,415.7 94.0,414.0C91.7,412.3 91.0,409.7 88.0,408.0C85.0,406.3 79.7,405.3 76.0,404.0C72.3,402.7 68.7,401.7 66.0,400.0C63.3,398.3 61.3,396.0 60.0,394.0C58.7,392.0 59.0,390.3 58.0,388.0C57.0,385.7 55.3,382.7 54.0,380.0C52.7,377.3 51.0,374.7 50.0,372.0C49.0,369.3 48.0,367.7 48.0,364.0C48.0,360.3 50.3,354.0 50.0,350.0C49.7,346.0 47.3,343.0 46.0,340.0C44.7,337.0 41.3,334.3 42.0,332.0Z" fill="#000080" filter="url(#r0)"/>
<path d="M98.0,311.0C98.8,309.5 102.3,308.7 104.0,309.0C105.7,309.3 107.7,311.5 108.0,313.0C108.3,314.5 107.5,317.2 106.0,318.0C104.5,318.8 100.3,319.2 99.0,318.0C97.7,316.8 97.2,312.5 98.0,311.0Z" fill="#800000" filter="url(#r1)"/>
<path d="M93.0,306.0C93.2,304.3 95.7,303.0 97.0,304.0C98.3,305.0 99.8,309.3 101.0,312.0C102.2,314.7 103.8,317.7 104.0,320.0C104.2,322.3 103.0,325.7 102.0,326.0C101.0,326.3 99.0,324.0 98.0,322.0C97.0,320.0 96.8,316.7 96.0,314.0C95.2,311.3 92.8,307.7 93.0,306.0Z" fill="#ffffff" filter="url(#r0)"/>
<circle cx="75.3" cy="319.0" r="1.4" fill="#ffc600"/>
<circle cx="85.5" cy="325.0" r="1.4" fill="#ffc600"/>
<circle cx="105.8" cy="332.0" r="1.4" fill="#ffc600"/>
<circle cx="115.0" cy="317.6" r="1.4" fill="#ffc600"/>
<circle cx="72.0" cy="325.0" r="1.4" fill="#ffc600"/>
<circle cx="90.0" cy="316.0" r="1.4" fill="#ffc600"/>
<circle cx="66.0" cy="322.0" r="1.4" fill="#ffc600"/>
</g>
<rect x="29.6" y="242.4" width="202.8" height="188.8" fill="none" stroke="#3a3a3a" stroke-width="0.8"/>
<line x1="40.8" y1="431.2" x2="40.8" y2="434.0" stroke="#3a3a3a" stroke-width="0.8"/>
<text x="40.80" y="441.80" font-size="7.24" text-anchor="middle" textLength="18.40" lengthAdjust="spacingAndGlyphs" stroke="#1e1e1e" stroke-width="0.2">−100</text>
<line x1="83.0" y1="431.2" x2="83.0" y2="434.0" stroke="#3a3a3a" stroke-width="0.8"/>
<text x="83.00" y="441.80" font-size="7.24" text-anchor="middle" textLength="14.14" lengthAdjust="spacingAndGlyphs" stroke="#1e1e1e" stroke-width="0.2">−50</text>
<line x1="125.2" y1="431.2" x2="125.2" y2="434.0" stroke="#3a3a3a" stroke-width="0.8"/>
<text x="125.20" y="441.80" font-size="7.24" text-anchor="middle" textLength="4.26" lengthAdjust="spacingAndGlyphs" stroke="#1e1e1e" stroke-width="0.2">0</text>
<line x1="167.4" y1="431.2" x2="167.4" y2="434.0" stroke="#3a3a3a" stroke-width="0.8"/>
<text x="167.40" y="441.80" font-size="7.24" text-anchor="middle" textLength="8.52" lengthAdjust="spacingAndGlyphs" stroke="#1e1e1e" stroke-width="0.2">50</text>
<line x1="209.6" y1="431.2" x2="209.6" y2="434.0" stroke="#3a3a3a" stroke-width="0.8"/>
<text x="209.60" y="441.80" font-size="7.24" text-anchor="middle" textLength="12.78" lengthAdjust="spacingAndGlyphs" stroke="#1e1e1e" stroke-width="0.2">100</text>
<line x1="26.8" y1="255.8" x2="29.6" y2="255.8" stroke="#3a3a3a" stroke-width="0.8"/>
<text x="24.30" y="258.61" font-size="7.24" text-anchor="end" textLength="12.78" lengthAdjust="spacingAndGlyphs" stroke="#1e1e1e" stroke-width="0.2">100</text>
<line x1="26.8" y1="294.9" x2="29.6" y2="294.9" stroke="#3a3a3a" stroke-width="0.8"/>
<text x="24.30" y="297.71" font-size="7.24" text-anchor="end" textLength="8.52" lengthAdjust="spacingAndGlyphs" stroke="#1e1e1e" stroke-width="0.2">50</text>
<line x1="26.8" y1="334.0" x2="29.6" y2="334.0" stroke="#3a3a3a" stroke-width="0.8"/>
<text x="24.30" y="336.81" font-size="7.24" text-anchor="end" textLength="4.26" lengthAdjust="spacingAndGlyphs" stroke="#1e1e1e" stroke-width="0.2">0</text>
<line x1="26.8" y1="373.1" x2="29.6" y2="373.1" stroke="#3a3a3a" stroke-width="0.8"/>
<text x="24.30" y="375.91" font-size="7.24" text-anchor="end" textLength="14.14" lengthAdjust="spacingAndGlyphs" stroke="#1e1e1e" stroke-width="0.2">−50</text>
<line x1="26.8" y1="412.2" x2="29.6" y2="412.2" stroke="#3a3a3a" stroke-width="0.8"/>
<text x="24.30" y="415.01" font-size="7.24" text-anchor="end" textLength="18.40" lengthAdjust="spacingAndGlyphs" stroke="#1e1e1e" stroke-width="0.2">−100</text>
<rect x="245.0" y="242.40" width="10.0" height="17.46" fill="#800000"/>
<line x1="255.0" y1="250.98" x2="257.8" y2="250.98" stroke="#3a3a3a" stroke-width="0.8"/>
<text x="259.80" y="253.80" font-size="7.24" text-anchor="start" textLength="8.52" lengthAdjust="spacingAndGlyphs" stroke="#1e1e1e" stroke-width="0.2">11</text>
<rect x="245.0" y="259.56" width="10.0" height="17.46" fill="#f30900"/>
<line x1="255.0" y1="268.15" x2="257.8" y2="268.15" stroke="#3a3a3a" stroke-width="0.8"/>
<text x="259.80" y="270.96" font-size="7.24" text-anchor="start" textLength="8.52" lengthAdjust="spacingAndGlyphs" stroke="#1e1e1e" stroke-width="0.2">10</text>
<rect x="245.0" y="276.73" width="10.0" height="17.46" fill="#ff6800"/>
<line x1="255.0" y1="285.31" x2="257.8" y2="285.31" stroke="#3a3a3a" stroke-width="0.8"/>
<text x="259.80" y="288.12" font-size="7.24" text-anchor="start" textLength="4.26" lengthAdjust="spacingAndGlyphs" stroke="#1e1e1e" stroke-width="0.2">9</text>
<rect x="245.0" y="293.89" width="10.0" height="17.46" fill="#ffc600"/>
<line x1="255.0" y1="302.47" x2="257.8" y2="302.47" stroke="#3a3a3a" stroke-width="0.8"/>
<text x="259.80" y="305.29" font-size="7.24" text-anchor="start" textLength="4.26" lengthAdjust="spacingAndGlyphs" stroke="#1e1e1e" stroke-width="0.2">8</text>
<rect x="245.0" y="311.05" width="10.0" height="17.46" fill="#ceff29"/>
<line x1="255.0" y1="319.64" x2="257.8" y2="319.64" stroke="#3a3a3a" stroke-width="0.8"/>
<text x="259.80" y="322.45" font-size="7.24" text-anchor="start" textLength="4.26" lengthAdjust="spacingAndGlyphs" stroke="#1e1e1e" stroke-width="0.2">7</text>
<rect x="245.0" y="328.22" width="10.0" height="17.46" fill="#7bff7b"/>
<line x1="255.0" y1="336.80" x2="257.8" y2="336.80" stroke="#3a3a3a" stroke-width="0.8"/>
<text x="259.80" y="339.61" font-size="7.24" text-anchor="start" textLength="4.26" lengthAdjust="spacingAndGlyphs" stroke="#1e1e1e" stroke-width="0.2">6</text>
<rect x="245.0" y="345.38" width="10.0" height="17.46" fill="#29ffce"/>
<line x1="255.0" y1="353.96" x2="257.8" y2="353.96" stroke="#3a3a3a" stroke-width="0.8"/>
<text x="259.80" y="356.78" font-size="7.24" text-anchor="start" textLength="4.26" lengthAdjust="spacingAndGlyphs" stroke="#1e1e1e" stroke-width="0.2">5</text>
<rect x="245.0" y="362.55" width="10.0" height="17.46" fill="#00b3ff"/>
<line x1="255.0" y1="371.13" x2="257.8" y2="371.13" stroke="#3a3a3a" stroke-width="0.8"/>
<text x="259.80" y="373.94" font-size="7.24" text-anchor="start" textLength="4.26" lengthAdjust="spacingAndGlyphs" stroke="#1e1e1e" stroke-width="0.2">4</text>
<rect x="245.0" y="379.71" width="10.0" height="17.46" fill="#004cff"/>
<line x1="255.0" y1="388.29" x2="257.8" y2="388.29" stroke="#3a3a3a" stroke-width="0.8"/>
<text x="259.80" y="391.10" font-size="7.24" text-anchor="start" textLength="4.26" lengthAdjust="spacingAndGlyphs" stroke="#1e1e1e" stroke-width="0.2">3</text>
<rect x="245.0" y="396.87" width="10.0" height="17.46" fill="#0000f3"/>
<line x1="255.0" y1="405.45" x2="257.8" y2="405.45" stroke="#3a3a3a" stroke-width="0.8"/>
<text x="259.80" y="408.27" font-size="7.24" text-anchor="start" textLength="4.26" lengthAdjust="spacingAndGlyphs" stroke="#1e1e1e" stroke-width="0.2">2</text>
<rect x="245.0" y="414.04" width="10.0" height="17.46" fill="#000080"/>
<line x1="255.0" y1="422.62" x2="257.8" y2="422.62" stroke="#3a3a3a" stroke-width="0.8"/>
<text x="259.80" y="425.43" font-size="7.24" text-anchor="start" textLength="4.26" lengthAdjust="spacingAndGlyphs" stroke="#1e1e1e" stroke-width="0.2">1</text>
<rect x="245.0" y="242.4" width="10.0" height="188.8" fill="none" stroke="#3a3a3a" stroke-width="0.6"/>
<text x="125.0" y="458.3" font-size="18" text-anchor="middle" font-family="Liberation Serif, serif" fill="#1a1a1a">(c)</text>
<clipPath id="clipd"><rect x="305.6" y="242.4" width="203.0" height="188.8"/></clipPath>
<g clip-path="url(#clipd)">
<path d="M452.0,327.0C455.0,324.5 460.0,325.2 464.0,325.0C468.0,324.8 471.7,324.8 476.0,326.0C480.3,327.2 487.3,329.3 490.0,332.0C492.7,334.7 492.3,339.3 492.0,342.0C491.7,344.7 487.7,345.7 488.0,348.0C488.3,350.3 492.0,353.7 494.0,356.0C496.0,358.3 499.7,359.7 500.0,362.0C500.3,364.3 498.0,367.7 496.0,370.0C494.0,372.3 490.7,374.0 488.0,376.0C485.3,378.0 483.0,380.0 480.0,382.0C477.0,384.0 473.0,386.0 470.0,388.0C467.0,390.0 464.7,392.0 462.0,394.0C459.3,396.0 456.0,398.0 454.0,400.0C452.0,402.0 452.0,405.7 450.0,406.0C448.0,406.3 444.0,403.3 442.0,402.0C440.0,400.7 437.3,399.3 438.0,398.0C438.7,396.7 444.0,395.7 446.0,394.0C448.0,392.3 449.7,390.3 450.0,388.0C450.3,385.7 447.7,382.7 448.0,380.0C448.3,377.3 452.0,375.0 452.0,372.0C452.0,369.0 449.3,365.0 448.0,362.0C446.7,359.0 444.3,357.7 444.0,354.0C443.7,350.3 444.7,344.5 446.0,340.0C447.3,335.5 449.0,329.5 452.0,327.0Z" fill="#ffc600" filter="url(#r2)"/>
<path d="M436.0,286.0C438.0,284.7 441.3,283.7 444.0,284.0C446.7,284.3 449.7,286.3 452.0,288.0C454.3,289.7 455.7,292.0 458.0,294.0C460.3,296.0 463.3,298.0 466.0,300.0C468.7,302.0 472.3,303.3 474.0,306.0C475.7,308.7 476.3,313.7 476.0,316.0C475.7,318.3 474.0,318.3 472.0,320.0C470.0,321.7 466.0,323.7 464.0,326.0C462.0,328.3 461.7,332.0 460.0,334.0C458.3,336.0 455.7,336.0 454.0,338.0C452.3,340.0 451.7,344.0 450.0,346.0C448.3,348.0 447.0,350.0 444.0,350.0C441.0,350.0 435.7,348.0 432.0,346.0C428.3,344.0 424.7,340.3 422.0,338.0C419.3,335.7 417.7,334.7 416.0,332.0C414.3,329.3 412.3,325.0 412.0,322.0C411.7,319.0 412.3,316.7 414.0,314.0C415.7,311.3 419.7,308.7 422.0,306.0C424.3,303.3 426.3,300.3 428.0,298.0C429.7,295.7 430.7,294.0 432.0,292.0C433.3,290.0 434.0,287.3 436.0,286.0Z" fill="#29ffce" filter="url(#r1)"/>
<path d="M430.0,351.0C431.7,349.2 435.7,348.0 438.0,349.0C440.3,350.0 442.0,354.2 444.0,357.0C446.0,359.8 448.3,362.8 450.0,366.0C451.7,369.2 453.7,373.0 454.0,376.0C454.3,379.0 453.3,382.0 452.0,384.0C450.7,386.0 448.3,387.7 446.0,388.0C443.7,388.3 440.7,387.0 438.0,386.0C435.3,385.0 431.7,384.7 430.0,382.0C428.3,379.3 428.3,373.7 428.0,370.0C427.7,366.3 427.7,363.2 428.0,360.0C428.3,356.8 428.3,352.8 430.0,351.0Z" fill="#ceff29" filter="url(#r1)"/>
<path d="M416.0,262.0C417.7,260.2 421.7,259.8 424.0,259.0C426.3,258.2 428.3,256.3 430.0,257.0C431.7,257.7 432.3,262.0 434.0,263.0C435.7,264.0 438.0,262.5 440.0,263.0C442.0,263.5 444.3,264.2 446.0,266.0C447.7,267.8 449.7,271.7 450.0,274.0C450.3,276.3 449.7,278.7 448.0,280.0C446.3,281.3 442.7,281.3 440.0,282.0C437.3,282.7 434.7,284.0 432.0,284.0C429.3,284.0 426.3,283.0 424.0,282.0C421.7,281.0 419.7,280.0 418.0,278.0C416.3,276.0 414.3,272.7 414.0,270.0C413.7,267.3 414.3,263.8 416.0,262.0Z" fill="#00b3ff" filter="url(#r1)"/>
<path d="M408.0,284.0C408.8,282.8 410.0,283.2 412.0,283.0C414.0,282.8 417.3,282.3 420.0,283.0C422.7,283.7 426.2,285.5 428.0,287.0C429.8,288.5 431.7,290.2 431.0,292.0C430.3,293.8 426.5,296.3 424.0,298.0C421.5,299.7 418.7,300.8 416.0,302.0C413.3,303.2 409.8,305.7 408.0,305.0C406.2,304.3 405.2,300.5 405.0,298.0C404.8,295.5 406.5,292.3 407.0,290.0C407.5,287.7 407.2,285.2 408.0,284.0Z" fill="#ff6800" filter="url(#r1)"/>
<path d="M361.0,282.0C362.2,279.0 362.3,274.7 363.0,272.0C363.7,269.3 363.3,267.8 365.0,266.0C366.7,264.2 370.7,263.2 373.0,261.0C375.3,258.8 376.7,255.0 379.0,253.0C381.3,251.0 384.3,249.3 387.0,249.0C389.7,248.7 392.7,250.0 395.0,251.0C397.3,252.0 399.7,253.0 401.0,255.0C402.3,257.0 402.0,260.3 403.0,263.0C404.0,265.7 405.7,268.3 407.0,271.0C408.3,273.7 410.2,276.2 411.0,279.0C411.8,281.8 412.2,285.2 412.0,288.0C411.8,290.8 411.0,293.3 410.0,296.0C409.0,298.7 408.2,302.0 406.0,304.0C403.8,306.0 399.8,307.7 397.0,308.0C394.2,308.3 391.7,306.3 389.0,306.0C386.3,305.7 383.7,306.0 381.0,306.0C378.3,306.0 375.7,305.3 373.0,306.0C370.3,306.7 367.7,309.3 365.0,310.0C362.3,310.7 358.7,311.7 357.0,310.0C355.3,308.3 355.2,303.3 355.0,300.0C354.8,296.7 355.0,293.0 356.0,290.0C357.0,287.0 359.8,285.0 361.0,282.0Z" fill="#004cff" filter="url(#r1)"/>
<path d="M321.0,299.0C322.3,296.0 323.3,292.7 325.0,290.0C326.7,287.3 329.0,285.2 331.0,283.0C333.0,280.8 335.0,277.7 337.0,277.0C339.0,276.3 341.3,277.5 343.0,279.0C344.7,280.5 345.2,285.2 347.0,286.0C348.8,286.8 351.8,283.3 354.0,284.0C356.2,284.7 358.8,287.0 360.0,290.0C361.2,293.0 361.3,298.7 361.0,302.0C360.7,305.3 359.2,307.3 358.0,310.0C356.8,312.7 355.2,315.3 354.0,318.0C352.8,320.7 352.2,323.7 351.0,326.0C349.8,328.3 349.3,330.7 347.0,332.0C344.7,333.3 340.0,334.0 337.0,334.0C334.0,334.0 332.0,332.3 329.0,332.0C326.0,331.7 321.3,333.0 319.0,332.0C316.7,331.0 315.2,328.3 315.0,326.0C314.8,323.7 317.7,321.0 318.0,318.0C318.3,315.0 316.5,311.2 317.0,308.0C317.5,304.8 319.7,302.0 321.0,299.0Z" fill="#0000f3" filter="url(#r1)"/>
<path d="M346.0,318.0C347.2,316.7 350.7,315.7 352.0,317.0C353.3,318.3 354.5,323.8 354.0,326.0C353.5,328.2 350.5,330.2 349.0,330.0C347.5,329.8 345.5,327.0 345.0,325.0C344.5,323.0 344.8,319.3 346.0,318.0Z" fill="#ffffff" filter="url(#r0)"/>
<path d="M331.0,338.0C332.7,336.0 337.3,336.0 341.0,334.0C344.7,332.0 349.7,329.3 353.0,326.0C356.3,322.7 358.0,316.5 361.0,314.0C364.0,311.5 367.7,310.3 371.0,311.0C374.3,311.7 377.3,317.2 381.0,318.0C384.7,318.8 389.7,317.0 393.0,316.0C396.3,315.0 398.3,311.7 401.0,312.0C403.7,312.3 407.2,315.7 409.0,318.0C410.8,320.3 410.2,322.7 412.0,326.0C413.8,329.3 417.7,334.7 420.0,338.0C422.3,341.3 424.7,342.7 426.0,346.0C427.3,349.3 427.7,354.0 428.0,358.0C428.3,362.0 427.7,366.0 428.0,370.0C428.3,374.0 429.7,378.0 430.0,382.0C430.3,386.0 431.0,390.3 430.0,394.0C429.0,397.7 425.7,401.3 424.0,404.0C422.3,406.7 421.7,408.0 420.0,410.0C418.3,412.0 416.0,414.3 414.0,416.0C412.0,417.7 410.3,419.0 408.0,420.0C405.7,421.0 402.5,421.7 400.0,422.0C397.5,422.3 395.8,421.8 393.0,422.0C390.2,422.2 386.3,423.0 383.0,423.0C379.7,423.0 375.7,423.2 373.0,422.0C370.3,420.8 369.0,418.0 367.0,416.0C365.0,414.0 363.0,412.0 361.0,410.0C359.0,408.0 357.3,405.7 355.0,404.0C352.7,402.3 349.7,401.7 347.0,400.0C344.3,398.3 341.7,396.0 339.0,394.0C336.3,392.0 332.7,390.7 331.0,388.0C329.3,385.3 329.7,381.0 329.0,378.0C328.3,375.0 327.3,373.3 327.0,370.0C326.7,366.7 326.3,362.0 327.0,358.0C327.7,354.0 330.3,349.3 331.0,346.0C331.7,342.7 329.3,340.0 331.0,338.0Z" fill="#000080" filter="url(#r0)"/>
<path d="M377.0,309.0C378.3,307.2 383.3,306.7 386.0,307.0C388.7,307.3 391.8,309.2 393.0,311.0C394.2,312.8 394.3,316.3 393.0,318.0C391.7,319.7 387.5,321.0 385.0,321.0C382.5,321.0 379.3,320.0 378.0,318.0C376.7,316.0 375.7,310.8 377.0,309.0Z" fill="#7bff7b" filter="url(#r1)"/>
<path d="M400.0,307.0C400.7,305.2 404.3,304.7 406.0,305.0C407.7,305.3 409.5,307.3 410.0,309.0C410.5,310.7 410.3,313.8 409.0,315.0C407.7,316.2 403.5,317.3 402.0,316.0C400.5,314.7 399.3,308.8 400.0,307.0Z" fill="#800000" filter="url(#r1)"/>
</g>
<rect x="305.6" y="242.4" width="203.0" height="188.8" fill="none" stroke="#3a3a3a" stroke-width="0.8"/>
<line x1="324.8" y1="431.2" x2="324.8" y2="434.0" stroke="#3a3a3a" stroke-width="0.8"/>
<text x="324.80" y="441.80" font-size="7.24" text-anchor="middle" textLength="18.40" lengthAdjust="spacingAndGlyphs" stroke="#1e1e1e" stroke-width="0.2">−100</text>
<line x1="363.0" y1="431.2" x2="363.0" y2="434.0" stroke="#3a3a3a" stroke-width="0.8"/>
<text x="363.00" y="441.80" font-size="7.24" text-anchor="middle" textLength="14.14" lengthAdjust="spacingAndGlyphs" stroke="#1e1e1e" stroke-width="0.2">−50</text>
<line x1="401.2" y1="431.2" x2="401.2" y2="434.0" stroke="#3a3a3a" stroke-width="0.8"/>
<text x="401.20" y="441.80" font-size="7.24" text-anchor="middle" textLength="4.26" lengthAdjust="spacingAndGlyphs" stroke="#1e1e1e" stroke-width="0.2">0</text>
<line x1="439.4" y1="431.2" x2="439.4" y2="434.0" stroke="#3a3a3a" stroke-width="0.8"/>
<text x="439.40" y="441.80" font-size="7.24" text-anchor="middle" textLength="8.52" lengthAdjust="spacingAndGlyphs" stroke="#1e1e1e" stroke-width="0.2">50</text>
<line x1="477.6" y1="431.2" x2="477.6" y2="434.0" stroke="#3a3a3a" stroke-width="0.8"/>
<text x="477.60" y="441.80" font-size="7.24" text-anchor="middle" textLength="12.78" lengthAdjust="spacingAndGlyphs" stroke="#1e1e1e" stroke-width="0.2">100</text>
<line x1="302.8" y1="264.6" x2="305.6" y2="264.6" stroke="#3a3a3a" stroke-width="0.8"/>
<text x="300.30" y="267.41" font-size="7.24" text-anchor="end" textLength="12.78" lengthAdjust="spacingAndGlyphs" stroke="#1e1e1e" stroke-width="0.2">100</text>
<line x1="302.8" y1="302.2" x2="305.6" y2="302.2" stroke="#3a3a3a" stroke-width="0.8"/>
<text x="300.30" y="305.01" font-size="7.24" text-anchor="end" textLength="8.52" lengthAdjust="spacingAndGlyphs" stroke="#1e1e1e" stroke-width="0.2">50</text>
<line x1="302.8" y1="339.8" x2="305.6" y2="339.8" stroke="#3a3a3a" stroke-width="0.8"/>
<text x="300.30" y="342.61" font-size="7.24" text-anchor="end" textLength="4.26" lengthAdjust="spacingAndGlyphs" stroke="#1e1e1e" stroke-width="0.2">0</text>
<line x1="302.8" y1="377.4" x2="305.6" y2="377.4" stroke="#3a3a3a" stroke-width="0.8"/>
<text x="300.30" y="380.21" font-size="7.24" text-anchor="end" textLength="14.14" lengthAdjust="spacingAndGlyphs" stroke="#1e1e1e" stroke-width="0.2">−50</text>
<line x1="302.8" y1="415.0" x2="305.6" y2="415.0" stroke="#3a3a3a" stroke-width="0.8"/>
<text x="300.30" y="417.81" font-size="7.24" text-anchor="end" textLength="18.40" lengthAdjust="spacingAndGlyphs" stroke="#1e1e1e" stroke-width="0.2">−100</text>
<rect x="521.0" y="242.40" width="10.0" height="17.46" fill="#800000"/>
<line x1="531.0" y1="250.98" x2="533.8" y2="250.98" stroke="#3a3a3a" stroke-width="0.8"/>
<text x="535.80" y="253.80" font-size="7.24" text-anchor="start" textLength="8.52" lengthAdjust="spacingAndGlyphs" stroke="#1e1e1e" stroke-width="0.2">11</text>
<rect x="521.0" y="259.56" width="10.0" height="17.46" fill="#f30900"/>
<line x1="531.0" y1="268.15" x2="533.8" y2="268.15" stroke="#3a3a3a" stroke-width="0.8"/>
<text x="535.80" y="270.96" font-size="7.24" text-anchor="start" textLength="8.52" lengthAdjust="spacingAndGlyphs" stroke="#1e1e1e" stroke-width="0.2">10</text>
<rect x="521.0" y="276.73" width="10.0" height="17.46" fill="#ff6800"/>
<line x1="531.0" y1="285.31" x2="533.8" y2="285.31" stroke="#3a3a3a" stroke-width="0.8"/>
<text x="535.80" y="288.12" font-size="7.24" text-anchor="start" textLength="4.26" lengthAdjust="spacingAndGlyphs" stroke="#1e1e1e" stroke-width="0.2">9</text>
<rect x="521.0" y="293.89" width="10.0" height="17.46" fill="#ffc600"/>
<line x1="531.0" y1="302.47" x2="533.8" y2="302.47" stroke="#3a3a3a" stroke-width="0.8"/>
<text x="535.80" y="305.29" font-size="7.24" text-anchor="start" textLength="4.26" lengthAdjust="spacingAndGlyphs" stroke="#1e1e1e" stroke-width="0.2">8</text>
<rect x="521.0" y="311.05" width="10.0" height="17.46" fill="#ceff29"/>
<line x1="531.0" y1="319.64" x2="533.8" y2="319.64" stroke="#3a3a3a" stroke-width="0.8"/>
<text x="535.80" y="322.45" font-size="7.24" text-anchor="start" textLength="4.26" lengthAdjust="spacingAndGlyphs" stroke="#1e1e1e" stroke-width="0.2">7</text>
<rect x="521.0" y="328.22" width="10.0" height="17.46" fill="#7bff7b"/>
<line x1="531.0" y1="336.80" x2="533.8" y2="336.80" stroke="#3a3a3a" stroke-width="0.8"/>
<text x="535.80" y="339.61" font-size="7.24" text-anchor="start" textLength="4.26" lengthAdjust="spacingAndGlyphs" stroke="#1e1e1e" stroke-width="0.2">6</text>
<rect x="521.0" y="345.38" width="10.0" height="17.46" fill="#29ffce"/>
<line x1="531.0" y1="353.96" x2="533.8" y2="353.96" stroke="#3a3a3a" stroke-width="0.8"/>
<text x="535.80" y="356.78" font-size="7.24" text-anchor="start" textLength="4.26" lengthAdjust="spacingAndGlyphs" stroke="#1e1e1e" stroke-width="0.2">5</text>
<rect x="521.0" y="362.55" width="10.0" height="17.46" fill="#00b3ff"/>
<line x1="531.0" y1="371.13" x2="533.8" y2="371.13" stroke="#3a3a3a" stroke-width="0.8"/>
<text x="535.80" y="373.94" font-size="7.24" text-anchor="start" textLength="4.26" lengthAdjust="spacingAndGlyphs" stroke="#1e1e1e" stroke-width="0.2">4</text>
<rect x="521.0" y="379.71" width="10.0" height="17.46" fill="#004cff"/>
<line x1="531.0" y1="388.29" x2="533.8" y2="388.29" stroke="#3a3a3a" stroke-width="0.8"/>
<text x="535.80" y="391.10" font-size="7.24" text-anchor="start" textLength="4.26" lengthAdjust="spacingAndGlyphs" stroke="#1e1e1e" stroke-width="0.2">3</text>
<rect x="521.0" y="396.87" width="10.0" height="17.46" fill="#0000f3"/>
<line x1="531.0" y1="405.45" x2="533.8" y2="405.45" stroke="#3a3a3a" stroke-width="0.8"/>
<text x="535.80" y="408.27" font-size="7.24" text-anchor="start" textLength="4.26" lengthAdjust="spacingAndGlyphs" stroke="#1e1e1e" stroke-width="0.2">2</text>
<rect x="521.0" y="414.04" width="10.0" height="17.46" fill="#000080"/>
<line x1="531.0" y1="422.62" x2="533.8" y2="422.62" stroke="#3a3a3a" stroke-width="0.8"/>
<text x="535.80" y="425.43" font-size="7.24" text-anchor="start" textLength="4.26" lengthAdjust="spacingAndGlyphs" stroke="#1e1e1e" stroke-width="0.2">1</text>
<rect x="521.0" y="242.4" width="10.0" height="188.8" fill="none" stroke="#3a3a3a" stroke-width="0.6"/>
<text x="401.0" y="458.3" font-size="18" text-anchor="middle" font-family="Liberation Serif, serif" fill="#1a1a1a">(d)</text>
<clipPath id="clipe"><rect x="25.2" y="477.6" width="209.2" height="190.8"/></clipPath>
<g clip-path="url(#clipe)">
<path d="M99.0,509.0C97.7,506.5 96.7,502.8 97.0,500.0C97.3,497.2 99.0,494.2 101.0,492.0C103.0,489.8 106.0,488.0 109.0,487.0C112.0,486.0 115.3,485.8 119.0,486.0C122.7,486.2 127.3,488.2 131.0,488.0C134.7,487.8 138.0,485.3 141.0,485.0C144.0,484.7 146.3,485.2 149.0,486.0C151.7,486.8 154.3,489.0 157.0,490.0C159.7,491.0 162.3,491.2 165.0,492.0C167.7,492.8 171.0,493.5 173.0,495.0C175.0,496.5 176.2,498.7 177.0,501.0C177.8,503.3 178.5,506.7 178.0,509.0C177.5,511.3 174.8,512.7 174.0,515.0C173.2,517.3 174.5,521.0 173.0,523.0C171.5,525.0 167.7,526.7 165.0,527.0C162.3,527.3 159.7,525.5 157.0,525.0C154.3,524.5 151.7,524.2 149.0,524.0C146.3,523.8 143.7,524.0 141.0,524.0C138.3,524.0 135.7,524.0 133.0,524.0C130.3,524.0 127.0,524.5 125.0,524.0C123.0,523.5 123.0,522.0 121.0,521.0C119.0,520.0 115.7,519.0 113.0,518.0C110.3,517.0 107.3,516.5 105.0,515.0C102.7,513.5 100.3,511.5 99.0,509.0Z" fill="#ffc600" filter="url(#r2)"/>
<path d="M87.0,503.0C87.2,501.8 89.8,500.7 91.0,501.0C92.2,501.3 94.2,503.8 94.0,505.0C93.8,506.2 91.2,508.3 90.0,508.0C88.8,507.7 86.8,504.2 87.0,503.0Z" fill="#ffc600" filter="url(#r2)"/>
<path d="M163.0,538.0C164.3,536.0 164.7,534.8 167.0,533.0C169.3,531.2 173.3,528.3 177.0,527.0C180.7,525.7 185.0,525.3 189.0,525.0C193.0,524.7 198.0,524.3 201.0,525.0C204.0,525.7 205.7,527.0 207.0,529.0C208.3,531.0 208.3,534.3 209.0,537.0C209.7,539.7 209.7,542.3 211.0,545.0C212.3,547.7 215.3,550.3 217.0,553.0C218.7,555.7 219.8,558.8 221.0,561.0C222.2,563.2 224.7,564.7 224.0,566.0C223.3,567.3 219.5,568.2 217.0,569.0C214.5,569.8 212.0,570.3 209.0,571.0C206.0,571.7 202.3,572.3 199.0,573.0C195.7,573.7 192.0,574.3 189.0,575.0C186.0,575.7 184.0,577.0 181.0,577.0C178.0,577.0 174.0,576.0 171.0,575.0C168.0,574.0 165.0,573.0 163.0,571.0C161.0,569.0 160.0,566.0 159.0,563.0C158.0,560.0 157.0,556.0 157.0,553.0C157.0,550.0 158.0,547.5 159.0,545.0C160.0,542.5 161.7,540.0 163.0,538.0Z" fill="#29ffce" filter="url(#r2)"/>
<path d="M201.0,566.0C202.3,564.5 208.0,565.3 212.0,565.0C216.0,564.7 223.3,562.8 225.0,564.0C226.7,565.2 224.2,570.2 222.0,572.0C219.8,573.8 215.0,574.7 212.0,575.0C209.0,575.3 205.8,575.5 204.0,574.0C202.2,572.5 199.7,567.5 201.0,566.0Z" fill="#29ffce" filter="url(#r2)"/>
<path d="M208.0,574.0C208.7,572.8 211.0,572.3 212.0,573.0C213.0,573.7 214.2,576.5 214.0,578.0C213.8,579.5 212.0,581.7 211.0,582.0C210.0,582.3 208.5,581.3 208.0,580.0C207.5,578.7 207.3,575.2 208.0,574.0Z" fill="#ff6800" filter="url(#r1)"/>
<path d="M129.0,531.0C130.7,529.3 133.7,527.8 137.0,527.0C140.3,526.2 145.7,525.7 149.0,526.0C152.3,526.3 155.3,527.2 157.0,529.0C158.7,530.8 159.0,534.3 159.0,537.0C159.0,539.7 158.7,543.0 157.0,545.0C155.3,547.0 152.3,548.3 149.0,549.0C145.7,549.7 140.3,550.0 137.0,549.0C133.7,548.0 130.7,545.0 129.0,543.0C127.3,541.0 127.0,539.0 127.0,537.0C127.0,535.0 127.3,532.7 129.0,531.0Z" fill="#ceff29" filter="url(#r1)"/>
<path d="M131.0,557.0C132.0,554.7 133.0,553.7 135.0,553.0C137.0,552.3 140.7,552.3 143.0,553.0C145.3,553.7 147.0,555.3 149.0,557.0C151.0,558.7 154.0,560.5 155.0,563.0C156.0,565.5 155.5,569.3 155.0,572.0C154.5,574.7 153.5,577.3 152.0,579.0C150.5,580.7 148.3,581.5 146.0,582.0C143.7,582.5 140.5,582.7 138.0,582.0C135.5,581.3 132.5,580.5 131.0,578.0C129.5,575.5 129.0,570.5 129.0,567.0C129.0,563.5 130.0,559.3 131.0,557.0Z" fill="#00b3ff" filter="url(#r1)"/>
<path d="M147.0,581.0C148.7,579.2 152.0,577.0 155.0,576.0C158.0,575.0 162.0,574.2 165.0,575.0C168.0,575.8 171.7,578.7 173.0,581.0C174.3,583.3 174.0,586.7 173.0,589.0C172.0,591.3 169.7,593.7 167.0,595.0C164.3,596.3 160.0,597.3 157.0,597.0C154.0,596.7 151.0,594.7 149.0,593.0C147.0,591.3 145.3,589.0 145.0,587.0C144.7,585.0 145.3,582.8 147.0,581.0Z" fill="#ff6800" filter="url(#r1)"/>
<path d="M140.0,591.0C141.2,589.8 144.2,588.8 146.0,589.0C147.8,589.2 150.3,590.3 151.0,592.0C151.7,593.7 151.3,597.7 150.0,599.0C148.7,600.3 144.8,600.5 143.0,600.0C141.2,599.5 139.5,597.5 139.0,596.0C138.5,594.5 138.8,592.2 140.0,591.0Z" fill="#7bff7b" filter="url(#r1)"/>
<path d="M175.0,583.0C177.5,581.5 181.7,579.3 185.0,579.0C188.3,578.7 191.7,579.7 195.0,581.0C198.3,582.3 203.0,584.3 205.0,587.0C207.0,589.7 206.7,593.3 207.0,597.0C207.3,600.7 207.7,605.7 207.0,609.0C206.3,612.3 205.7,614.7 203.0,617.0C200.3,619.3 193.0,621.0 191.0,623.0C189.0,625.0 192.7,627.8 191.0,629.0C189.3,630.2 183.3,630.7 181.0,630.0C178.7,629.3 179.3,626.5 177.0,625.0C174.7,623.5 169.3,623.3 167.0,621.0C164.7,618.7 164.0,614.0 163.0,611.0C162.0,608.0 160.7,606.0 161.0,603.0C161.3,600.0 163.5,595.5 165.0,593.0C166.5,590.5 168.3,589.7 170.0,588.0C171.7,586.3 172.5,584.5 175.0,583.0Z" fill="#0000f3" filter="url(#r0)"/>
<path d="M111.0,613.0C112.8,611.0 117.0,610.0 120.0,609.0C123.0,608.0 126.5,607.7 129.0,607.0C131.5,606.3 132.3,605.7 135.0,605.0C137.7,604.3 141.7,603.3 145.0,603.0C148.3,602.7 152.3,601.7 155.0,603.0C157.7,604.3 159.7,608.0 161.0,611.0C162.3,614.0 162.3,617.7 163.0,621.0C163.7,624.3 165.0,628.0 165.0,631.0C165.0,634.0 164.7,637.0 163.0,639.0C161.3,641.0 157.0,641.3 155.0,643.0C153.0,644.7 152.3,647.0 151.0,649.0C149.7,651.0 148.7,653.3 147.0,655.0C145.3,656.7 143.0,658.5 141.0,659.0C139.0,659.5 137.0,658.0 135.0,658.0C133.0,658.0 131.0,658.8 129.0,659.0C127.0,659.2 125.0,659.7 123.0,659.0C121.0,658.3 118.0,656.7 117.0,655.0C116.0,653.3 118.0,650.7 117.0,649.0C116.0,647.3 113.0,646.3 111.0,645.0C109.0,643.7 106.7,643.3 105.0,641.0C103.3,638.7 101.3,633.7 101.0,631.0C100.7,628.3 101.7,626.7 103.0,625.0C104.3,623.3 107.7,623.0 109.0,621.0C110.3,619.0 109.2,615.0 111.0,613.0Z" fill="#004cff" filter="url(#r1)"/>
<path d="M35.0,567.0C35.0,564.7 36.3,563.7 37.0,561.0C37.7,558.3 38.0,554.3 39.0,551.0C40.0,547.7 41.3,544.0 43.0,541.0C44.7,538.0 47.3,536.0 49.0,533.0C50.7,530.0 51.0,525.3 53.0,523.0C55.0,520.7 58.3,519.7 61.0,519.0C63.7,518.3 66.3,519.7 69.0,519.0C71.7,518.3 74.7,515.8 77.0,515.0C79.3,514.2 80.7,513.7 83.0,514.0C85.3,514.3 88.3,516.2 91.0,517.0C93.7,517.8 96.7,518.0 99.0,519.0C101.3,520.0 102.7,522.0 105.0,523.0C107.3,524.0 110.7,524.7 113.0,525.0C115.3,525.3 117.3,525.3 119.0,525.0C120.7,524.7 121.7,521.7 123.0,523.0C124.3,524.3 126.0,530.0 127.0,533.0C128.0,536.0 128.3,538.3 129.0,541.0C129.7,543.7 130.7,546.3 131.0,549.0C131.3,551.7 131.2,554.0 131.0,557.0C130.8,560.0 130.0,563.7 130.0,567.0C130.0,570.3 130.5,573.2 131.0,577.0C131.5,580.8 132.2,586.0 133.0,590.0C133.8,594.0 136.7,598.2 136.0,601.0C135.3,603.8 131.8,605.7 129.0,607.0C126.2,608.3 121.7,609.3 119.0,609.0C116.3,608.7 114.3,606.5 113.0,605.0C111.7,603.5 111.7,600.0 111.0,600.0C110.3,600.0 109.7,602.8 109.0,605.0C108.3,607.2 108.3,610.7 107.0,613.0C105.7,615.3 103.3,617.7 101.0,619.0C98.7,620.3 96.0,620.8 93.0,621.0C90.0,621.2 86.3,620.7 83.0,620.0C79.7,619.3 76.3,618.5 73.0,617.0C69.7,615.5 66.0,613.0 63.0,611.0C60.0,609.0 57.7,607.3 55.0,605.0C52.3,602.7 49.3,600.3 47.0,597.0C44.7,593.7 42.7,588.7 41.0,585.0C39.3,581.3 38.0,578.0 37.0,575.0C36.0,572.0 35.0,569.3 35.0,567.0Z" fill="#000080" filter="url(#r0)"/>
<path d="M85.0,632.0C85.3,630.7 87.7,629.8 89.0,630.0C90.3,630.2 92.5,631.8 93.0,633.0C93.5,634.2 93.0,636.2 92.0,637.0C91.0,637.8 88.2,638.8 87.0,638.0C85.8,637.2 84.7,633.3 85.0,632.0Z" fill="#800000" filter="url(#r1)"/>
<path d="M93.0,630.0C93.3,629.0 96.0,628.5 97.0,629.0C98.0,629.5 99.3,632.0 99.0,633.0C98.7,634.0 96.0,635.5 95.0,635.0C94.0,634.5 92.7,631.0 93.0,630.0Z" fill="#004cff" filter="url(#r1)"/>
</g>
<rect x="25.2" y="477.6" width="209.2" height="190.8" fill="none" stroke="#3a3a3a" stroke-width="0.8"/>
<line x1="45.2" y1="668.4" x2="45.2" y2="671.2" stroke="#3a3a3a" stroke-width="0.8"/>
<text x="45.20" y="678.00" font-size="6.16" text-anchor="middle" textLength="15.65" lengthAdjust="spacingAndGlyphs" stroke="#1e1e1e" stroke-width="0.2">−100</text>
<line x1="85.6" y1="668.4" x2="85.6" y2="671.2" stroke="#3a3a3a" stroke-width="0.8"/>
<text x="85.60" y="678.00" font-size="6.16" text-anchor="middle" textLength="12.03" lengthAdjust="spacingAndGlyphs" stroke="#1e1e1e" stroke-width="0.2">−50</text>
<line x1="126.0" y1="668.4" x2="126.0" y2="671.2" stroke="#3a3a3a" stroke-width="0.8"/>
<text x="126.00" y="678.00" font-size="6.16" text-anchor="middle" textLength="3.63" lengthAdjust="spacingAndGlyphs" stroke="#1e1e1e" stroke-width="0.2">0</text>
<line x1="166.4" y1="668.4" x2="166.4" y2="671.2" stroke="#3a3a3a" stroke-width="0.8"/>
<text x="166.40" y="678.00" font-size="6.16" text-anchor="middle" textLength="7.25" lengthAdjust="spacingAndGlyphs" stroke="#1e1e1e" stroke-width="0.2">50</text>
<line x1="206.8" y1="668.4" x2="206.8" y2="671.2" stroke="#3a3a3a" stroke-width="0.8"/>
<text x="206.80" y="678.00" font-size="6.16" text-anchor="middle" textLength="10.88" lengthAdjust="spacingAndGlyphs" stroke="#1e1e1e" stroke-width="0.2">100</text>
<line x1="22.4" y1="496.6" x2="25.2" y2="496.6" stroke="#3a3a3a" stroke-width="0.8"/>
<text x="19.90" y="498.99" font-size="6.16" text-anchor="end" textLength="10.88" lengthAdjust="spacingAndGlyphs" stroke="#1e1e1e" stroke-width="0.2">100</text>
<line x1="22.4" y1="533.2" x2="25.2" y2="533.2" stroke="#3a3a3a" stroke-width="0.8"/>
<text x="19.90" y="535.59" font-size="6.16" text-anchor="end" textLength="7.25" lengthAdjust="spacingAndGlyphs" stroke="#1e1e1e" stroke-width="0.2">50</text>
<line x1="22.4" y1="569.8" x2="25.2" y2="569.8" stroke="#3a3a3a" stroke-width="0.8"/>
<text x="19.90" y="572.19" font-size="6.16" text-anchor="end" textLength="3.63" lengthAdjust="spacingAndGlyphs" stroke="#1e1e1e" stroke-width="0.2">0</text>
<line x1="22.4" y1="606.4" x2="25.2" y2="606.4" stroke="#3a3a3a" stroke-width="0.8"/>
<text x="19.90" y="608.79" font-size="6.16" text-anchor="end" textLength="12.03" lengthAdjust="spacingAndGlyphs" stroke="#1e1e1e" stroke-width="0.2">−50</text>
<line x1="22.4" y1="643.0" x2="25.2" y2="643.0" stroke="#3a3a3a" stroke-width="0.8"/>
<text x="19.90" y="645.39" font-size="6.16" text-anchor="end" textLength="15.65" lengthAdjust="spacingAndGlyphs" stroke="#1e1e1e" stroke-width="0.2">−100</text>
<rect x="247.0" y="477.60" width="10.0" height="17.65" fill="#800000"/>
<line x1="257.0" y1="486.27" x2="259.8" y2="486.27" stroke="#3a3a3a" stroke-width="0.8"/>
<text x="261.80" y="488.67" font-size="6.16" text-anchor="start" textLength="7.25" lengthAdjust="spacingAndGlyphs" stroke="#1e1e1e" stroke-width="0.2">11</text>
<rect x="247.0" y="494.95" width="10.0" height="17.65" fill="#f30900"/>
<line x1="257.0" y1="503.62" x2="259.8" y2="503.62" stroke="#3a3a3a" stroke-width="0.8"/>
<text x="261.80" y="506.01" font-size="6.16" text-anchor="start" textLength="7.25" lengthAdjust="spacingAndGlyphs" stroke="#1e1e1e" stroke-width="0.2">10</text>
<rect x="247.0" y="512.29" width="10.0" height="17.65" fill="#ff6800"/>
<line x1="257.0" y1="520.96" x2="259.8" y2="520.96" stroke="#3a3a3a" stroke-width="0.8"/>
<text x="261.80" y="523.36" font-size="6.16" text-anchor="start" textLength="3.63" lengthAdjust="spacingAndGlyphs" stroke="#1e1e1e" stroke-width="0.2">9</text>
<rect x="247.0" y="529.64" width="10.0" height="17.65" fill="#ffc600"/>
<line x1="257.0" y1="538.31" x2="259.8" y2="538.31" stroke="#3a3a3a" stroke-width="0.8"/>
<text x="261.80" y="540.70" font-size="6.16" text-anchor="start" textLength="3.63" lengthAdjust="spacingAndGlyphs" stroke="#1e1e1e" stroke-width="0.2">8</text>
<rect x="247.0" y="546.98" width="10.0" height="17.65" fill="#ceff29"/>
<line x1="257.0" y1="555.65" x2="259.8" y2="555.65" stroke="#3a3a3a" stroke-width="0.8"/>
<text x="261.80" y="558.05" font-size="6.16" text-anchor="start" textLength="3.63" lengthAdjust="spacingAndGlyphs" stroke="#1e1e1e" stroke-width="0.2">7</text>
<rect x="247.0" y="564.33" width="10.0" height="17.65" fill="#7bff7b"/>
<line x1="257.0" y1="573.00" x2="259.8" y2="573.00" stroke="#3a3a3a" stroke-width="0.8"/>
<text x="261.80" y="575.39" font-size="6.16" text-anchor="start" textLength="3.63" lengthAdjust="spacingAndGlyphs" stroke="#1e1e1e" stroke-width="0.2">6</text>
<rect x="247.0" y="581.67" width="10.0" height="17.65" fill="#29ffce"/>
<line x1="257.0" y1="590.35" x2="259.8" y2="590.35" stroke="#3a3a3a" stroke-width="0.8"/>
<text x="261.80" y="592.74" font-size="6.16" text-anchor="start" textLength="3.63" lengthAdjust="spacingAndGlyphs" stroke="#1e1e1e" stroke-width="0.2">5</text>
<rect x="247.0" y="599.02" width="10.0" height="17.65" fill="#00b3ff"/>
<line x1="257.0" y1="607.69" x2="259.8" y2="607.69" stroke="#3a3a3a" stroke-width="0.8"/>
<text x="261.80" y="610.08" font-size="6.16" text-anchor="start" textLength="3.63" lengthAdjust="spacingAndGlyphs" stroke="#1e1e1e" stroke-width="0.2">4</text>
<rect x="247.0" y="616.36" width="10.0" height="17.65" fill="#004cff"/>
<line x1="257.0" y1="625.04" x2="259.8" y2="625.04" stroke="#3a3a3a" stroke-width="0.8"/>
<text x="261.80" y="627.43" font-size="6.16" text-anchor="start" textLength="3.63" lengthAdjust="spacingAndGlyphs" stroke="#1e1e1e" stroke-width="0.2">3</text>
<rect x="247.0" y="633.71" width="10.0" height="17.65" fill="#0000f3"/>
<line x1="257.0" y1="642.38" x2="259.8" y2="642.38" stroke="#3a3a3a" stroke-width="0.8"/>
<text x="261.80" y="644.78" font-size="6.16" text-anchor="start" textLength="3.63" lengthAdjust="spacingAndGlyphs" stroke="#1e1e1e" stroke-width="0.2">2</text>
<rect x="247.0" y="651.05" width="10.0" height="17.65" fill="#000080"/>
<line x1="257.0" y1="659.73" x2="259.8" y2="659.73" stroke="#3a3a3a" stroke-width="0.8"/>
<text x="261.80" y="662.12" font-size="6.16" text-anchor="start" textLength="3.63" lengthAdjust="spacingAndGlyphs" stroke="#1e1e1e" stroke-width="0.2">1</text>
<rect x="247.0" y="477.6" width="10.0" height="190.8" fill="none" stroke="#3a3a3a" stroke-width="0.6"/>
<text x="125.0" y="693.7" font-size="18" text-anchor="middle" font-family="Liberation Serif, serif" fill="#1a1a1a">(e)</text>
<clipPath id="clipf"><rect x="301.6" y="477.6" width="208.8" height="190.4"/></clipPath>
<g clip-path="url(#clipf)">
<path d="M365.0,629.0C365.0,627.7 368.7,627.7 371.0,627.0C373.3,626.3 376.7,625.7 379.0,625.0C381.3,624.3 382.7,623.7 385.0,623.0C387.3,622.3 390.3,621.7 393.0,621.0C395.7,620.3 398.5,619.3 401.0,619.0C403.5,618.7 404.8,618.5 408.0,619.0C411.2,619.5 416.0,621.8 420.0,622.0C424.0,622.2 428.7,620.7 432.0,620.0C435.3,619.3 437.0,618.7 440.0,618.0C443.0,617.3 446.3,616.3 450.0,616.0C453.7,615.7 459.7,614.8 462.0,616.0C464.3,617.2 464.3,620.5 464.0,623.0C463.7,625.5 461.0,628.3 460.0,631.0C459.0,633.7 459.3,636.7 458.0,639.0C456.7,641.3 454.0,643.3 452.0,645.0C450.0,646.7 448.7,648.3 446.0,649.0C443.3,649.7 439.3,648.3 436.0,649.0C432.7,649.7 429.3,652.0 426.0,653.0C422.7,654.0 418.7,654.0 416.0,655.0C413.3,656.0 411.7,659.2 410.0,659.0C408.3,658.8 407.5,655.3 406.0,654.0C404.5,652.7 403.5,651.8 401.0,651.0C398.5,650.2 394.3,649.3 391.0,649.0C387.7,648.7 384.0,649.7 381.0,649.0C378.0,648.3 374.7,647.3 373.0,645.0C371.3,642.7 372.3,637.7 371.0,635.0C369.7,632.3 365.0,630.3 365.0,629.0Z" fill="#ffc600" filter="url(#r2)"/>
<path d="M446.0,557.0C447.7,554.3 450.0,553.8 454.0,553.0C458.0,552.2 465.7,552.2 470.0,552.0C474.3,551.8 477.0,551.8 480.0,552.0C483.0,552.2 485.7,552.2 488.0,553.0C490.3,553.8 492.7,555.0 494.0,557.0C495.3,559.0 495.3,561.7 496.0,565.0C496.7,568.3 497.3,573.7 498.0,577.0C498.7,580.3 500.0,582.0 500.0,585.0C500.0,588.0 499.3,592.3 498.0,595.0C496.7,597.7 494.3,599.3 492.0,601.0C489.7,602.7 486.7,604.0 484.0,605.0C481.3,606.0 478.7,606.3 476.0,607.0C473.3,607.7 470.7,608.7 468.0,609.0C465.3,609.3 462.3,609.7 460.0,609.0C457.7,608.3 456.0,607.0 454.0,605.0C452.0,603.0 449.3,599.7 448.0,597.0C446.7,594.3 446.7,591.7 446.0,589.0C445.3,586.3 444.3,584.3 444.0,581.0C443.7,577.7 443.7,573.0 444.0,569.0C444.3,565.0 444.3,559.7 446.0,557.0Z" fill="#29ffce" filter="url(#r2)"/>
<path d="M416.0,601.0C417.0,599.2 416.3,599.2 418.0,598.0C419.7,596.8 423.0,594.8 426.0,594.0C429.0,593.2 433.0,592.7 436.0,593.0C439.0,593.3 441.7,594.2 444.0,596.0C446.3,597.8 447.7,602.0 450.0,604.0C452.3,606.0 456.7,606.5 458.0,608.0C459.3,609.5 460.0,611.8 458.0,613.0C456.0,614.2 449.3,614.0 446.0,615.0C442.7,616.0 441.0,618.0 438.0,619.0C435.0,620.0 431.3,620.7 428.0,621.0C424.7,621.3 421.0,621.7 418.0,621.0C415.0,620.3 411.0,619.0 410.0,617.0C409.0,615.0 411.0,611.7 412.0,609.0C413.0,606.3 415.0,602.8 416.0,601.0Z" fill="#ceff29" filter="url(#r1)"/>
<path d="M446.0,594.0C446.3,592.3 450.5,592.2 452.0,593.0C453.5,593.8 455.3,597.3 455.0,599.0C454.7,600.7 451.5,603.8 450.0,603.0C448.5,602.2 445.7,595.7 446.0,594.0Z" fill="#ff6800" filter="url(#r1)"/>
<path d="M420.0,560.0C421.7,556.8 426.0,558.2 430.0,558.0C434.0,557.8 441.3,557.5 444.0,559.0C446.7,560.5 445.3,564.3 446.0,567.0C446.7,569.7 448.7,572.3 448.0,575.0C447.3,577.7 444.0,580.7 442.0,583.0C440.0,585.3 438.3,587.7 436.0,589.0C433.7,590.3 430.3,591.3 428.0,591.0C425.7,590.7 423.3,589.3 422.0,587.0C420.7,584.7 420.3,581.5 420.0,577.0C419.7,572.5 418.3,563.2 420.0,560.0Z" fill="#00b3ff" filter="url(#r1)"/>
<path d="M422.0,541.0C423.3,539.3 427.0,539.0 430.0,539.0C433.0,539.0 437.7,539.7 440.0,541.0C442.3,542.3 443.7,544.7 444.0,547.0C444.3,549.3 443.7,553.0 442.0,555.0C440.3,557.0 437.0,558.7 434.0,559.0C431.0,559.3 426.0,558.7 424.0,557.0C422.0,555.3 422.3,551.7 422.0,549.0C421.7,546.3 420.7,542.7 422.0,541.0Z" fill="#ff6800" filter="url(#r1)"/>
<path d="M456.0,550.0C456.7,548.2 460.0,547.8 462.0,548.0C464.0,548.2 467.3,549.3 468.0,551.0C468.7,552.7 467.7,556.7 466.0,558.0C464.3,559.3 459.7,560.3 458.0,559.0C456.3,557.7 455.3,551.8 456.0,550.0Z" fill="#f30900" filter="url(#r1)"/>
<path d="M444.0,507.0C445.3,504.7 447.7,503.3 450.0,503.0C452.3,502.7 455.3,504.0 458.0,505.0C460.7,506.0 463.3,507.7 466.0,509.0C468.7,510.3 472.3,511.0 474.0,513.0C475.7,515.0 475.0,518.3 476.0,521.0C477.0,523.7 479.0,526.3 480.0,529.0C481.0,531.7 482.7,535.0 482.0,537.0C481.3,539.0 477.3,539.3 476.0,541.0C474.7,542.7 476.0,546.0 474.0,547.0C472.0,548.0 467.0,547.7 464.0,547.0C461.0,546.3 458.7,544.0 456.0,543.0C453.3,542.0 450.7,541.7 448.0,541.0C445.3,540.3 442.0,540.3 440.0,539.0C438.0,537.7 436.0,535.3 436.0,533.0C436.0,530.7 439.0,527.7 440.0,525.0C441.0,522.3 441.3,520.0 442.0,517.0C442.7,514.0 442.7,509.3 444.0,507.0Z" fill="#0000f3" filter="url(#r1)"/>
<path d="M379.0,489.0C380.0,487.8 382.3,486.3 385.0,486.0C387.7,485.7 391.7,487.0 395.0,487.0C398.3,487.0 402.3,486.3 405.0,486.0C407.7,485.7 409.2,484.5 411.0,485.0C412.8,485.5 413.8,487.3 416.0,489.0C418.2,490.7 421.3,493.3 424.0,495.0C426.7,496.7 430.0,497.0 432.0,499.0C434.0,501.0 434.7,504.0 436.0,507.0C437.3,510.0 439.3,513.7 440.0,517.0C440.7,520.3 440.3,524.0 440.0,527.0C439.7,530.0 439.7,533.0 438.0,535.0C436.3,537.0 433.0,538.0 430.0,539.0C427.0,540.0 423.3,541.0 420.0,541.0C416.7,541.0 412.8,539.7 410.0,539.0C407.2,538.3 405.2,538.0 403.0,537.0C400.8,536.0 399.0,534.3 397.0,533.0C395.0,531.7 393.0,530.7 391.0,529.0C389.0,527.3 386.3,525.3 385.0,523.0C383.7,520.7 383.7,517.7 383.0,515.0C382.3,512.3 380.7,509.7 381.0,507.0C381.3,504.3 385.3,501.3 385.0,499.0C384.7,496.7 380.0,494.7 379.0,493.0C378.0,491.3 378.0,490.2 379.0,489.0Z" fill="#004cff" filter="url(#r1)"/>
<path d="M436.0,488.0C436.3,486.3 438.5,485.0 440.0,485.0C441.5,485.0 444.0,486.5 445.0,488.0C446.0,489.5 447.2,492.8 446.0,494.0C444.8,495.2 439.7,496.0 438.0,495.0C436.3,494.0 435.7,489.7 436.0,488.0Z" fill="#800000" filter="url(#r1)"/>
<path d="M363.0,501.0C363.7,500.2 365.7,501.3 367.0,502.0C368.3,502.7 369.7,503.8 371.0,505.0C372.3,506.2 374.3,507.5 375.0,509.0C375.7,510.5 376.0,513.0 375.0,514.0C374.0,515.0 370.7,515.5 369.0,515.0C367.3,514.5 366.0,512.3 365.0,511.0C364.0,509.7 363.3,508.7 363.0,507.0C362.7,505.3 362.3,501.8 363.0,501.0Z" fill="#7bff7b" filter="url(#r1)"/>
<path d="M311.0,569.0C311.0,567.0 312.3,564.0 313.0,561.0C313.7,558.0 313.7,554.0 315.0,551.0C316.3,548.0 318.7,545.7 321.0,543.0C323.3,540.3 326.7,537.3 329.0,535.0C331.3,532.7 333.0,531.7 335.0,529.0C337.0,526.3 339.0,521.3 341.0,519.0C343.0,516.7 344.7,515.7 347.0,515.0C349.3,514.3 352.7,514.7 355.0,515.0C357.3,515.3 359.3,516.0 361.0,517.0C362.7,518.0 363.7,519.7 365.0,521.0C366.3,522.3 367.3,524.0 369.0,525.0C370.7,526.0 372.7,526.3 375.0,527.0C377.3,527.7 380.7,528.3 383.0,529.0C385.3,529.7 387.0,530.0 389.0,531.0C391.0,532.0 392.7,533.7 395.0,535.0C397.3,536.3 400.2,537.8 403.0,539.0C405.8,540.2 409.2,541.3 412.0,542.0C414.8,542.7 418.7,540.0 420.0,543.0C421.3,546.0 420.2,553.8 420.0,560.0C419.8,566.2 419.3,575.0 419.0,580.0C418.7,585.0 418.5,587.2 418.0,590.0C417.5,592.8 417.0,594.5 416.0,597.0C415.0,599.5 413.7,602.7 412.0,605.0C410.3,607.3 408.0,609.5 406.0,611.0C404.0,612.5 402.2,613.3 400.0,614.0C397.8,614.7 395.8,614.2 393.0,615.0C390.2,615.8 386.3,618.2 383.0,619.0C379.7,619.8 376.0,620.0 373.0,620.0C370.0,620.0 368.0,619.5 365.0,619.0C362.0,618.5 358.3,617.7 355.0,617.0C351.7,616.3 348.3,616.0 345.0,615.0C341.7,614.0 338.0,612.7 335.0,611.0C332.0,609.3 329.3,607.0 327.0,605.0C324.7,603.0 322.3,601.3 321.0,599.0C319.7,596.7 319.7,594.0 319.0,591.0C318.3,588.0 318.0,584.0 317.0,581.0C316.0,578.0 314.0,575.0 313.0,573.0C312.0,571.0 311.0,571.0 311.0,569.0Z" fill="#000080" filter="url(#r1)"/>
</g>
<rect x="301.6" y="477.6" width="208.8" height="190.4" fill="none" stroke="#3a3a3a" stroke-width="0.8"/>
<line x1="324.0" y1="668.0" x2="324.0" y2="670.8" stroke="#3a3a3a" stroke-width="0.8"/>
<text x="324.00" y="677.60" font-size="6.16" text-anchor="middle" textLength="15.65" lengthAdjust="spacingAndGlyphs" stroke="#1e1e1e" stroke-width="0.2">−100</text>
<line x1="364.6" y1="668.0" x2="364.6" y2="670.8" stroke="#3a3a3a" stroke-width="0.8"/>
<text x="364.60" y="677.60" font-size="6.16" text-anchor="middle" textLength="12.03" lengthAdjust="spacingAndGlyphs" stroke="#1e1e1e" stroke-width="0.2">−50</text>
<line x1="405.2" y1="668.0" x2="405.2" y2="670.8" stroke="#3a3a3a" stroke-width="0.8"/>
<text x="405.20" y="677.60" font-size="6.16" text-anchor="middle" textLength="3.63" lengthAdjust="spacingAndGlyphs" stroke="#1e1e1e" stroke-width="0.2">0</text>
<line x1="445.8" y1="668.0" x2="445.8" y2="670.8" stroke="#3a3a3a" stroke-width="0.8"/>
<text x="445.80" y="677.60" font-size="6.16" text-anchor="middle" textLength="7.25" lengthAdjust="spacingAndGlyphs" stroke="#1e1e1e" stroke-width="0.2">50</text>
<line x1="486.4" y1="668.0" x2="486.4" y2="670.8" stroke="#3a3a3a" stroke-width="0.8"/>
<text x="486.40" y="677.60" font-size="6.16" text-anchor="middle" textLength="10.88" lengthAdjust="spacingAndGlyphs" stroke="#1e1e1e" stroke-width="0.2">100</text>
<line x1="298.8" y1="495.6" x2="301.6" y2="495.6" stroke="#3a3a3a" stroke-width="0.8"/>
<text x="296.30" y="497.99" font-size="6.16" text-anchor="end" textLength="10.88" lengthAdjust="spacingAndGlyphs" stroke="#1e1e1e" stroke-width="0.2">100</text>
<line x1="298.8" y1="532.5" x2="301.6" y2="532.5" stroke="#3a3a3a" stroke-width="0.8"/>
<text x="296.30" y="534.89" font-size="6.16" text-anchor="end" textLength="7.25" lengthAdjust="spacingAndGlyphs" stroke="#1e1e1e" stroke-width="0.2">50</text>
<line x1="298.8" y1="569.4" x2="301.6" y2="569.4" stroke="#3a3a3a" stroke-width="0.8"/>
<text x="296.30" y="571.79" font-size="6.16" text-anchor="end" textLength="3.63" lengthAdjust="spacingAndGlyphs" stroke="#1e1e1e" stroke-width="0.2">0</text>
<line x1="298.8" y1="606.3" x2="301.6" y2="606.3" stroke="#3a3a3a" stroke-width="0.8"/>
<text x="296.30" y="608.69" font-size="6.16" text-anchor="end" textLength="12.03" lengthAdjust="spacingAndGlyphs" stroke="#1e1e1e" stroke-width="0.2">−50</text>
<line x1="298.8" y1="643.2" x2="301.6" y2="643.2" stroke="#3a3a3a" stroke-width="0.8"/>
<text x="296.30" y="645.59" font-size="6.16" text-anchor="end" textLength="15.65" lengthAdjust="spacingAndGlyphs" stroke="#1e1e1e" stroke-width="0.2">−100</text>
<rect x="523.4" y="477.60" width="9.6" height="17.61" fill="#800000"/>
<line x1="533.0" y1="486.25" x2="535.8" y2="486.25" stroke="#3a3a3a" stroke-width="0.8"/>
<text x="537.80" y="488.65" font-size="6.16" text-anchor="start" textLength="7.25" lengthAdjust="spacingAndGlyphs" stroke="#1e1e1e" stroke-width="0.2">11</text>
<rect x="523.4" y="494.91" width="9.6" height="17.61" fill="#f30900"/>
<line x1="533.0" y1="503.56" x2="535.8" y2="503.56" stroke="#3a3a3a" stroke-width="0.8"/>
<text x="537.80" y="505.96" font-size="6.16" text-anchor="start" textLength="7.25" lengthAdjust="spacingAndGlyphs" stroke="#1e1e1e" stroke-width="0.2">10</text>
<rect x="523.4" y="512.22" width="9.6" height="17.61" fill="#ff6800"/>
<line x1="533.0" y1="520.87" x2="535.8" y2="520.87" stroke="#3a3a3a" stroke-width="0.8"/>
<text x="537.80" y="523.27" font-size="6.16" text-anchor="start" textLength="3.63" lengthAdjust="spacingAndGlyphs" stroke="#1e1e1e" stroke-width="0.2">9</text>
<rect x="523.4" y="529.53" width="9.6" height="17.61" fill="#ffc600"/>
<line x1="533.0" y1="538.18" x2="535.8" y2="538.18" stroke="#3a3a3a" stroke-width="0.8"/>
<text x="537.80" y="540.58" font-size="6.16" text-anchor="start" textLength="3.63" lengthAdjust="spacingAndGlyphs" stroke="#1e1e1e" stroke-width="0.2">8</text>
<rect x="523.4" y="546.84" width="9.6" height="17.61" fill="#ceff29"/>
<line x1="533.0" y1="555.49" x2="535.8" y2="555.49" stroke="#3a3a3a" stroke-width="0.8"/>
<text x="537.80" y="557.88" font-size="6.16" text-anchor="start" textLength="3.63" lengthAdjust="spacingAndGlyphs" stroke="#1e1e1e" stroke-width="0.2">7</text>
<rect x="523.4" y="564.15" width="9.6" height="17.61" fill="#7bff7b"/>
<line x1="533.0" y1="572.80" x2="535.8" y2="572.80" stroke="#3a3a3a" stroke-width="0.8"/>
<text x="537.80" y="575.19" font-size="6.16" text-anchor="start" textLength="3.63" lengthAdjust="spacingAndGlyphs" stroke="#1e1e1e" stroke-width="0.2">6</text>
<rect x="523.4" y="581.45" width="9.6" height="17.61" fill="#29ffce"/>
<line x1="533.0" y1="590.11" x2="535.8" y2="590.11" stroke="#3a3a3a" stroke-width="0.8"/>
<text x="537.80" y="592.50" font-size="6.16" text-anchor="start" textLength="3.63" lengthAdjust="spacingAndGlyphs" stroke="#1e1e1e" stroke-width="0.2">5</text>
<rect x="523.4" y="598.76" width="9.6" height="17.61" fill="#00b3ff"/>
<line x1="533.0" y1="607.42" x2="535.8" y2="607.42" stroke="#3a3a3a" stroke-width="0.8"/>
<text x="537.80" y="609.81" font-size="6.16" text-anchor="start" textLength="3.63" lengthAdjust="spacingAndGlyphs" stroke="#1e1e1e" stroke-width="0.2">4</text>
<rect x="523.4" y="616.07" width="9.6" height="17.61" fill="#004cff"/>
<line x1="533.0" y1="624.73" x2="535.8" y2="624.73" stroke="#3a3a3a" stroke-width="0.8"/>
<text x="537.80" y="627.12" font-size="6.16" text-anchor="start" textLength="3.63" lengthAdjust="spacingAndGlyphs" stroke="#1e1e1e" stroke-width="0.2">3</text>
<rect x="523.4" y="633.38" width="9.6" height="17.61" fill="#0000f3"/>
<line x1="533.0" y1="642.04" x2="535.8" y2="642.04" stroke="#3a3a3a" stroke-width="0.8"/>
<text x="537.80" y="644.43" font-size="6.16" text-anchor="start" textLength="3.63" lengthAdjust="spacingAndGlyphs" stroke="#1e1e1e" stroke-width="0.2">2</text>
<rect x="523.4" y="650.69" width="9.6" height="17.61" fill="#000080"/>
<line x1="533.0" y1="659.35" x2="535.8" y2="659.35" stroke="#3a3a3a" stroke-width="0.8"/>
<text x="537.80" y="661.74" font-size="6.16" text-anchor="start" textLength="3.63" lengthAdjust="spacingAndGlyphs" stroke="#1e1e1e" stroke-width="0.2">1</text>
<rect x="523.4" y="477.6" width="9.6" height="190.4" fill="none" stroke="#3a3a3a" stroke-width="0.6"/>
<text x="406.0" y="693.7" font-size="18" text-anchor="middle" font-family="Liberation Serif, serif" fill="#1a1a1a">(f)</text>
<clipPath id="clipg"><rect x="29.6" y="713.0" width="202.8" height="188.2"/></clipPath>
<g clip-path="url(#clipg)">
<path d="M179.0,806.0C180.0,804.0 184.0,803.0 187.0,802.0C190.0,801.0 194.0,800.8 197.0,800.0C200.0,799.2 202.3,797.7 205.0,797.0C207.7,796.3 210.7,795.7 213.0,796.0C215.3,796.3 217.5,797.0 219.0,799.0C220.5,801.0 221.3,804.5 222.0,808.0C222.7,811.5 222.8,816.3 223.0,820.0C223.2,823.7 224.0,827.7 223.0,830.0C222.0,832.3 218.3,832.0 217.0,834.0C215.7,836.0 216.0,839.3 215.0,842.0C214.0,844.7 212.7,847.7 211.0,850.0C209.3,852.3 207.0,854.0 205.0,856.0C203.0,858.0 201.3,860.7 199.0,862.0C196.7,863.3 193.3,864.3 191.0,864.0C188.7,863.7 187.0,861.3 185.0,860.0C183.0,858.7 181.0,856.7 179.0,856.0C177.0,855.3 174.0,857.3 173.0,856.0C172.0,854.7 173.0,850.7 173.0,848.0C173.0,845.3 173.0,843.0 173.0,840.0C173.0,837.0 172.7,833.0 173.0,830.0C173.3,827.0 173.7,824.7 175.0,822.0C176.3,819.3 180.3,816.7 181.0,814.0C181.7,811.3 178.0,808.0 179.0,806.0Z" fill="#ffc600" filter="url(#r2)"/>
<path d="M106.0,854.0C107.7,852.0 111.0,849.3 114.0,848.0C117.0,846.7 120.7,846.8 124.0,846.0C127.3,845.2 131.2,843.3 134.0,843.0C136.8,842.7 138.5,842.8 141.0,844.0C143.5,845.2 146.3,848.0 149.0,850.0C151.7,852.0 154.7,854.0 157.0,856.0C159.3,858.0 161.3,860.3 163.0,862.0C164.7,863.7 166.7,863.7 167.0,866.0C167.3,868.3 166.3,873.0 165.0,876.0C163.7,879.0 161.3,881.7 159.0,884.0C156.7,886.3 154.0,888.3 151.0,890.0C148.0,891.7 143.5,893.5 141.0,894.0C138.5,894.5 138.5,893.7 136.0,893.0C133.5,892.3 129.7,891.2 126.0,890.0C122.3,888.8 117.3,887.7 114.0,886.0C110.7,884.3 108.0,882.7 106.0,880.0C104.0,877.3 102.3,873.3 102.0,870.0C101.7,866.7 103.3,862.7 104.0,860.0C104.7,857.3 104.3,856.0 106.0,854.0Z" fill="#29ffce" filter="url(#r1)"/>
<path d="M95.0,869.0C95.7,868.0 98.0,866.7 99.0,867.0C100.0,867.3 101.2,869.8 101.0,871.0C100.8,872.2 99.0,873.7 98.0,874.0C97.0,874.3 95.5,873.8 95.0,873.0C94.5,872.2 94.3,870.0 95.0,869.0Z" fill="#29ffce" filter="url(#r1)"/>
<path d="M143.0,826.0C145.0,824.5 149.7,823.3 153.0,823.0C156.3,822.7 160.0,823.2 163.0,824.0C166.0,824.8 169.3,825.7 171.0,828.0C172.7,830.3 173.0,834.7 173.0,838.0C173.0,841.3 172.3,845.0 171.0,848.0C169.7,851.0 167.3,854.7 165.0,856.0C162.7,857.3 159.7,857.3 157.0,856.0C154.3,854.7 151.0,850.7 149.0,848.0C147.0,845.3 146.3,842.7 145.0,840.0C143.7,837.3 141.3,834.3 141.0,832.0C140.7,829.7 141.0,827.5 143.0,826.0Z" fill="#ceff29" filter="url(#r1)"/>
<path d="M137.0,838.0C138.0,837.0 141.5,836.5 143.0,837.0C144.5,837.5 146.2,839.7 146.0,841.0C145.8,842.3 143.5,844.7 142.0,845.0C140.5,845.3 137.8,844.2 137.0,843.0C136.2,841.8 136.0,839.0 137.0,838.0Z" fill="#f30900" filter="url(#r1)"/>
<path d="M161.0,799.0C163.3,799.0 166.3,799.2 169.0,800.0C171.7,800.8 175.0,802.3 177.0,804.0C179.0,805.7 180.3,808.0 181.0,810.0C181.7,812.0 181.7,814.7 181.0,816.0C180.3,817.3 179.0,817.0 177.0,818.0C175.0,819.0 172.0,821.7 169.0,822.0C166.0,822.3 161.7,821.3 159.0,820.0C156.3,818.7 154.3,816.3 153.0,814.0C151.7,811.7 150.7,808.3 151.0,806.0C151.3,803.7 153.3,801.2 155.0,800.0C156.7,798.8 158.7,799.0 161.0,799.0Z" fill="#00b3ff" filter="url(#r1)"/>
<path d="M149.0,789.0C151.0,787.0 155.3,785.7 157.0,787.0C158.7,788.3 159.0,793.7 159.0,797.0C159.0,800.3 157.7,804.2 157.0,807.0C156.3,809.8 156.0,812.2 155.0,814.0C154.0,815.8 152.7,817.2 151.0,818.0C149.3,818.8 146.3,820.5 145.0,819.0C143.7,817.5 143.0,812.3 143.0,809.0C143.0,805.7 144.0,802.3 145.0,799.0C146.0,795.7 147.0,791.0 149.0,789.0Z" fill="#ff6800" filter="url(#r1)"/>
<path d="M133.0,781.0C134.2,779.3 138.7,778.7 141.0,779.0C143.3,779.3 146.0,781.2 147.0,783.0C148.0,784.8 148.2,788.5 147.0,790.0C145.8,791.5 142.2,792.2 140.0,792.0C137.8,791.8 135.2,790.8 134.0,789.0C132.8,787.2 131.8,782.7 133.0,781.0Z" fill="#7bff7b" filter="url(#r1)"/>
<path d="M177.0,761.0C180.0,759.5 182.3,758.3 185.0,758.0C187.7,757.7 190.3,757.8 193.0,759.0C195.7,760.2 198.7,762.7 201.0,765.0C203.3,767.3 206.0,770.3 207.0,773.0C208.0,775.7 208.0,778.3 207.0,781.0C206.0,783.7 203.3,786.3 201.0,789.0C198.7,791.7 195.7,795.3 193.0,797.0C190.3,798.7 188.0,799.0 185.0,799.0C182.0,799.0 178.0,798.3 175.0,797.0C172.0,795.7 169.3,793.3 167.0,791.0C164.7,788.7 162.0,785.7 161.0,783.0C160.0,780.3 160.0,777.7 161.0,775.0C162.0,772.3 164.3,769.3 167.0,767.0C169.7,764.7 174.0,762.5 177.0,761.0Z" fill="#0000f3" filter="url(#r1)"/>
<path d="M116.0,735.0C117.3,733.0 119.7,730.7 122.0,729.0C124.3,727.3 127.3,726.0 130.0,725.0C132.7,724.0 135.2,722.3 138.0,723.0C140.8,723.7 144.2,727.7 147.0,729.0C149.8,730.3 152.3,730.0 155.0,731.0C157.7,732.0 161.0,733.3 163.0,735.0C165.0,736.7 165.7,738.7 167.0,741.0C168.3,743.3 170.3,746.3 171.0,749.0C171.7,751.7 171.3,754.3 171.0,757.0C170.7,759.7 170.3,762.7 169.0,765.0C167.7,767.3 164.7,769.0 163.0,771.0C161.3,773.0 160.3,775.0 159.0,777.0C157.7,779.0 157.0,782.3 155.0,783.0C153.0,783.7 149.7,782.0 147.0,781.0C144.3,780.0 141.7,778.5 139.0,777.0C136.3,775.5 133.2,773.8 131.0,772.0C128.8,770.2 127.5,768.5 126.0,766.0C124.5,763.5 123.3,759.8 122.0,757.0C120.7,754.2 119.3,751.7 118.0,749.0C116.7,746.3 114.3,743.3 114.0,741.0C113.7,738.7 114.7,737.0 116.0,735.0Z" fill="#004cff" filter="url(#r1)"/>
<path d="M153.0,722.0C153.3,720.3 156.3,719.0 158.0,719.0C159.7,719.0 162.3,720.5 163.0,722.0C163.7,723.5 163.2,726.8 162.0,728.0C160.8,729.2 157.5,730.0 156.0,729.0C154.5,728.0 152.7,723.7 153.0,722.0Z" fill="#800000" filter="url(#r1)"/>
<path d="M38.0,815.0C38.5,813.8 40.7,808.0 42.0,805.0C43.3,802.0 44.3,800.0 46.0,797.0C47.7,794.0 50.7,790.3 52.0,787.0C53.3,783.7 52.3,779.7 54.0,777.0C55.7,774.3 59.7,773.0 62.0,771.0C64.3,769.0 65.7,766.7 68.0,765.0C70.3,763.3 73.3,762.0 76.0,761.0C78.7,760.0 81.7,760.0 84.0,759.0C86.3,758.0 88.3,756.3 90.0,755.0C91.7,753.7 92.0,751.3 94.0,751.0C96.0,750.7 99.3,752.7 102.0,753.0C104.7,753.3 108.0,752.7 110.0,753.0C112.0,753.3 112.3,754.3 114.0,755.0C115.7,755.7 118.0,755.3 120.0,757.0C122.0,758.7 124.3,762.3 126.0,765.0C127.7,767.7 128.7,771.0 130.0,773.0C131.3,775.0 133.0,774.3 134.0,777.0C135.0,779.7 135.2,786.0 136.0,789.0C136.8,792.0 138.3,792.7 139.0,795.0C139.7,797.3 139.5,800.2 140.0,803.0C140.5,805.8 142.2,808.8 142.0,812.0C141.8,815.2 139.7,818.7 139.0,822.0C138.3,825.3 139.0,829.0 138.0,832.0C137.0,835.0 134.7,838.0 133.0,840.0C131.3,842.0 130.2,843.0 128.0,844.0C125.8,845.0 122.7,845.3 120.0,846.0C117.3,846.7 114.7,847.0 112.0,848.0C109.3,849.0 106.3,850.7 104.0,852.0C101.7,853.3 100.3,855.0 98.0,856.0C95.7,857.0 93.0,858.0 90.0,858.0C87.0,858.0 83.3,856.3 80.0,856.0C76.7,855.7 72.7,856.7 70.0,856.0C67.3,855.3 66.3,853.3 64.0,852.0C61.7,850.7 58.0,849.7 56.0,848.0C54.0,846.3 53.3,844.3 52.0,842.0C50.7,839.7 49.3,836.7 48.0,834.0C46.7,831.3 45.0,828.7 44.0,826.0C43.0,823.3 42.8,820.3 42.0,818.0C41.2,815.7 39.7,812.5 39.0,812.0C38.3,811.5 37.5,816.2 38.0,815.0Z" fill="#000080" filter="url(#r0)"/>
</g>
<rect x="29.6" y="713.0" width="202.8" height="188.2" fill="none" stroke="#3a3a3a" stroke-width="0.8"/>
<line x1="51.2" y1="901.2" x2="51.2" y2="904.0" stroke="#3a3a3a" stroke-width="0.8"/>
<text x="51.20" y="911.80" font-size="7.24" text-anchor="middle" textLength="18.40" lengthAdjust="spacingAndGlyphs" stroke="#1e1e1e" stroke-width="0.2">−100</text>
<line x1="91.2" y1="901.2" x2="91.2" y2="904.0" stroke="#3a3a3a" stroke-width="0.8"/>
<text x="91.20" y="911.80" font-size="7.24" text-anchor="middle" textLength="14.14" lengthAdjust="spacingAndGlyphs" stroke="#1e1e1e" stroke-width="0.2">−50</text>
<line x1="131.2" y1="901.2" x2="131.2" y2="904.0" stroke="#3a3a3a" stroke-width="0.8"/>
<text x="131.20" y="911.80" font-size="7.24" text-anchor="middle" textLength="4.26" lengthAdjust="spacingAndGlyphs" stroke="#1e1e1e" stroke-width="0.2">0</text>
<line x1="171.2" y1="901.2" x2="171.2" y2="904.0" stroke="#3a3a3a" stroke-width="0.8"/>
<text x="171.20" y="911.80" font-size="7.24" text-anchor="middle" textLength="8.52" lengthAdjust="spacingAndGlyphs" stroke="#1e1e1e" stroke-width="0.2">50</text>
<line x1="211.2" y1="901.2" x2="211.2" y2="904.0" stroke="#3a3a3a" stroke-width="0.8"/>
<text x="211.20" y="911.80" font-size="7.24" text-anchor="middle" textLength="12.78" lengthAdjust="spacingAndGlyphs" stroke="#1e1e1e" stroke-width="0.2">100</text>
<line x1="26.8" y1="736.6" x2="29.6" y2="736.6" stroke="#3a3a3a" stroke-width="0.8"/>
<text x="24.30" y="739.41" font-size="7.24" text-anchor="end" textLength="12.78" lengthAdjust="spacingAndGlyphs" stroke="#1e1e1e" stroke-width="0.2">100</text>
<line x1="26.8" y1="773.0" x2="29.6" y2="773.0" stroke="#3a3a3a" stroke-width="0.8"/>
<text x="24.30" y="775.81" font-size="7.24" text-anchor="end" textLength="8.52" lengthAdjust="spacingAndGlyphs" stroke="#1e1e1e" stroke-width="0.2">50</text>
<line x1="26.8" y1="809.4" x2="29.6" y2="809.4" stroke="#3a3a3a" stroke-width="0.8"/>
<text x="24.30" y="812.21" font-size="7.24" text-anchor="end" textLength="4.26" lengthAdjust="spacingAndGlyphs" stroke="#1e1e1e" stroke-width="0.2">0</text>
<line x1="26.8" y1="845.8" x2="29.6" y2="845.8" stroke="#3a3a3a" stroke-width="0.8"/>
<text x="24.30" y="848.61" font-size="7.24" text-anchor="end" textLength="14.14" lengthAdjust="spacingAndGlyphs" stroke="#1e1e1e" stroke-width="0.2">−50</text>
<line x1="26.8" y1="882.2" x2="29.6" y2="882.2" stroke="#3a3a3a" stroke-width="0.8"/>
<text x="24.30" y="885.01" font-size="7.24" text-anchor="end" textLength="18.40" lengthAdjust="spacingAndGlyphs" stroke="#1e1e1e" stroke-width="0.2">−100</text>
<rect x="245.0" y="713.00" width="10.0" height="17.41" fill="#800000"/>
<line x1="255.0" y1="721.55" x2="257.8" y2="721.55" stroke="#3a3a3a" stroke-width="0.8"/>
<text x="259.80" y="724.37" font-size="7.24" text-anchor="start" textLength="8.52" lengthAdjust="spacingAndGlyphs" stroke="#1e1e1e" stroke-width="0.2">11</text>
<rect x="245.0" y="730.11" width="10.0" height="17.41" fill="#f30900"/>
<line x1="255.0" y1="738.66" x2="257.8" y2="738.66" stroke="#3a3a3a" stroke-width="0.8"/>
<text x="259.80" y="741.48" font-size="7.24" text-anchor="start" textLength="8.52" lengthAdjust="spacingAndGlyphs" stroke="#1e1e1e" stroke-width="0.2">10</text>
<rect x="245.0" y="747.22" width="10.0" height="17.41" fill="#ff6800"/>
<line x1="255.0" y1="755.77" x2="257.8" y2="755.77" stroke="#3a3a3a" stroke-width="0.8"/>
<text x="259.80" y="758.59" font-size="7.24" text-anchor="start" textLength="4.26" lengthAdjust="spacingAndGlyphs" stroke="#1e1e1e" stroke-width="0.2">9</text>
<rect x="245.0" y="764.33" width="10.0" height="17.41" fill="#ffc600"/>
<line x1="255.0" y1="772.88" x2="257.8" y2="772.88" stroke="#3a3a3a" stroke-width="0.8"/>
<text x="259.80" y="775.70" font-size="7.24" text-anchor="start" textLength="4.26" lengthAdjust="spacingAndGlyphs" stroke="#1e1e1e" stroke-width="0.2">8</text>
<rect x="245.0" y="781.44" width="10.0" height="17.41" fill="#ceff29"/>
<line x1="255.0" y1="789.99" x2="257.8" y2="789.99" stroke="#3a3a3a" stroke-width="0.8"/>
<text x="259.80" y="792.80" font-size="7.24" text-anchor="start" textLength="4.26" lengthAdjust="spacingAndGlyphs" stroke="#1e1e1e" stroke-width="0.2">7</text>
<rect x="245.0" y="798.55" width="10.0" height="17.41" fill="#7bff7b"/>
<line x1="255.0" y1="807.10" x2="257.8" y2="807.10" stroke="#3a3a3a" stroke-width="0.8"/>
<text x="259.80" y="809.91" font-size="7.24" text-anchor="start" textLength="4.26" lengthAdjust="spacingAndGlyphs" stroke="#1e1e1e" stroke-width="0.2">6</text>
<rect x="245.0" y="815.65" width="10.0" height="17.41" fill="#29ffce"/>
<line x1="255.0" y1="824.21" x2="257.8" y2="824.21" stroke="#3a3a3a" stroke-width="0.8"/>
<text x="259.80" y="827.02" font-size="7.24" text-anchor="start" textLength="4.26" lengthAdjust="spacingAndGlyphs" stroke="#1e1e1e" stroke-width="0.2">5</text>
<rect x="245.0" y="832.76" width="10.0" height="17.41" fill="#00b3ff"/>
<line x1="255.0" y1="841.32" x2="257.8" y2="841.32" stroke="#3a3a3a" stroke-width="0.8"/>
<text x="259.80" y="844.13" font-size="7.24" text-anchor="start" textLength="4.26" lengthAdjust="spacingAndGlyphs" stroke="#1e1e1e" stroke-width="0.2">4</text>
<rect x="245.0" y="849.87" width="10.0" height="17.41" fill="#004cff"/>
<line x1="255.0" y1="858.43" x2="257.8" y2="858.43" stroke="#3a3a3a" stroke-width="0.8"/>
<text x="259.80" y="861.24" font-size="7.24" text-anchor="start" textLength="4.26" lengthAdjust="spacingAndGlyphs" stroke="#1e1e1e" stroke-width="0.2">3</text>
<rect x="245.0" y="866.98" width="10.0" height="17.41" fill="#0000f3"/>
<line x1="255.0" y1="875.54" x2="257.8" y2="875.54" stroke="#3a3a3a" stroke-width="0.8"/>
<text x="259.80" y="878.35" font-size="7.24" text-anchor="start" textLength="4.26" lengthAdjust="spacingAndGlyphs" stroke="#1e1e1e" stroke-width="0.2">2</text>
<rect x="245.0" y="884.09" width="10.0" height="17.41" fill="#000080"/>
<line x1="255.0" y1="892.65" x2="257.8" y2="892.65" stroke="#3a3a3a" stroke-width="0.8"/>
<text x="259.80" y="895.46" font-size="7.24" text-anchor="start" textLength="4.26" lengthAdjust="spacingAndGlyphs" stroke="#1e1e1e" stroke-width="0.2">1</text>
<rect x="245.0" y="713.0" width="10.0" height="188.2" fill="none" stroke="#3a3a3a" stroke-width="0.6"/>
<text x="131.1" y="928.6" font-size="18" text-anchor="middle" font-family="Liberation Serif, serif" fill="#1a1a1a">(g)</text>
<clipPath id="cliph"><rect x="305.6" y="713.0" width="202.8" height="188.2"/></clipPath>
<g clip-path="url(#cliph)">
<path d="M383.0,725.0C383.7,722.7 386.3,721.7 389.0,721.0C391.7,720.3 395.7,720.7 399.0,721.0C402.3,721.3 406.2,722.3 409.0,723.0C411.8,723.7 413.5,724.8 416.0,725.0C418.5,725.2 421.3,724.0 424.0,724.0C426.7,724.0 430.3,723.8 432.0,725.0C433.7,726.2 432.7,729.7 434.0,731.0C435.3,732.3 437.7,732.7 440.0,733.0C442.3,733.3 445.3,733.0 448.0,733.0C450.7,733.0 454.0,732.7 456.0,733.0C458.0,733.3 458.3,733.7 460.0,735.0C461.7,736.3 464.3,739.3 466.0,741.0C467.7,742.7 470.0,743.3 470.0,745.0C470.0,746.7 468.0,749.7 466.0,751.0C464.0,752.3 459.3,751.3 458.0,753.0C456.7,754.7 459.0,759.0 458.0,761.0C457.0,763.0 454.3,764.3 452.0,765.0C449.7,765.7 446.7,765.7 444.0,765.0C441.3,764.3 438.3,762.3 436.0,761.0C433.7,759.7 432.3,757.7 430.0,757.0C427.7,756.3 424.7,757.7 422.0,757.0C419.3,756.3 416.7,754.0 414.0,753.0C411.3,752.0 408.3,751.3 406.0,751.0C403.7,750.7 402.2,751.3 400.0,751.0C397.8,750.7 395.2,750.3 393.0,749.0C390.8,747.7 388.3,745.3 387.0,743.0C385.7,740.7 385.7,738.0 385.0,735.0C384.3,732.0 382.3,727.3 383.0,725.0Z" fill="#ffc600" filter="url(#r2)"/>
<path d="M430.0,765.0C431.7,763.7 436.3,763.8 440.0,764.0C443.7,764.2 448.0,765.3 452.0,766.0C456.0,766.7 460.3,767.7 464.0,768.0C467.7,768.3 471.0,767.3 474.0,768.0C477.0,768.7 479.3,770.5 482.0,772.0C484.7,773.5 487.7,775.2 490.0,777.0C492.3,778.8 494.7,780.7 496.0,783.0C497.3,785.3 498.3,788.3 498.0,791.0C497.7,793.7 494.3,796.3 494.0,799.0C493.7,801.7 496.0,804.0 496.0,807.0C496.0,810.0 495.0,813.8 494.0,817.0C493.0,820.2 491.7,823.5 490.0,826.0C488.3,828.5 485.7,831.7 484.0,832.0C482.3,832.3 482.0,829.3 480.0,828.0C478.0,826.7 474.7,825.3 472.0,824.0C469.3,822.7 466.0,822.0 464.0,820.0C462.0,818.0 461.0,813.8 460.0,812.0C459.0,810.2 459.3,810.8 458.0,809.0C456.7,807.2 453.7,803.7 452.0,801.0C450.3,798.3 448.7,795.7 448.0,793.0C447.3,790.3 448.3,787.5 448.0,785.0C447.7,782.5 448.0,779.8 446.0,778.0C444.0,776.2 438.7,775.0 436.0,774.0C433.3,773.0 431.0,773.5 430.0,772.0C429.0,770.5 428.3,766.3 430.0,765.0Z" fill="#29ffce" filter="url(#r1)"/>
<path d="M397.0,761.0C398.0,758.3 400.0,754.7 403.0,753.0C406.0,751.3 411.5,749.8 415.0,751.0C418.5,752.2 421.5,757.3 424.0,760.0C426.5,762.7 429.7,764.8 430.0,767.0C430.3,769.2 427.7,771.3 426.0,773.0C424.3,774.7 422.0,775.3 420.0,777.0C418.0,778.7 416.0,782.5 414.0,783.0C412.0,783.5 409.8,780.7 408.0,780.0C406.2,779.3 404.8,780.8 403.0,779.0C401.2,777.2 398.0,772.0 397.0,769.0C396.0,766.0 396.0,763.7 397.0,761.0Z" fill="#ceff29" filter="url(#r1)"/>
<path d="M422.0,779.0C424.0,777.7 427.0,775.3 430.0,775.0C433.0,774.7 437.0,776.0 440.0,777.0C443.0,778.0 446.7,779.0 448.0,781.0C449.3,783.0 448.7,786.3 448.0,789.0C447.3,791.7 445.7,794.7 444.0,797.0C442.3,799.3 440.3,802.0 438.0,803.0C435.7,804.0 432.7,804.0 430.0,803.0C427.3,802.0 424.0,799.3 422.0,797.0C420.0,794.7 418.7,791.3 418.0,789.0C417.3,786.7 417.3,784.7 418.0,783.0C418.7,781.3 420.0,780.3 422.0,779.0Z" fill="#00b3ff" filter="url(#r1)"/>
<path d="M434.0,804.0C435.0,802.7 441.0,803.0 444.0,804.0C447.0,805.0 450.0,807.3 452.0,810.0C454.0,812.7 454.7,816.7 456.0,820.0C457.3,823.3 459.3,827.0 460.0,830.0C460.7,833.0 461.3,836.3 460.0,838.0C458.7,839.7 454.0,841.0 452.0,840.0C450.0,839.0 449.3,835.3 448.0,832.0C446.7,828.7 445.7,823.3 444.0,820.0C442.3,816.7 439.7,814.7 438.0,812.0C436.3,809.3 433.0,805.3 434.0,804.0Z" fill="#ff6800" filter="url(#r1)"/>
<path d="M462.0,824.0C462.7,822.7 465.5,822.3 467.0,823.0C468.5,823.7 470.8,826.3 471.0,828.0C471.2,829.7 469.3,832.5 468.0,833.0C466.7,833.5 464.0,832.5 463.0,831.0C462.0,829.5 461.3,825.3 462.0,824.0Z" fill="#f30900" filter="url(#r1)"/>
<path d="M479.0,845.0C479.2,843.3 482.3,841.3 484.0,841.0C485.7,840.7 488.2,841.7 489.0,843.0C489.8,844.3 490.0,847.7 489.0,849.0C488.0,850.3 484.7,851.7 483.0,851.0C481.3,850.3 478.8,846.7 479.0,845.0Z" fill="#800000" filter="url(#r1)"/>
<path d="M389.0,866.0C389.2,863.3 392.2,862.3 394.0,860.0C395.8,857.7 397.0,853.7 400.0,852.0C403.0,850.3 408.0,850.0 412.0,850.0C416.0,850.0 420.0,852.0 424.0,852.0C428.0,852.0 432.3,851.3 436.0,850.0C439.7,848.7 443.0,846.0 446.0,844.0C449.0,842.0 451.3,838.7 454.0,838.0C456.7,837.3 459.3,839.0 462.0,840.0C464.7,841.0 467.7,842.7 470.0,844.0C472.3,845.3 474.0,846.7 476.0,848.0C478.0,849.3 481.3,850.7 482.0,852.0C482.7,853.3 482.0,855.7 480.0,856.0C478.0,856.3 472.3,853.3 470.0,854.0C467.7,854.7 467.0,857.7 466.0,860.0C465.0,862.3 465.7,866.0 464.0,868.0C462.3,870.0 458.3,870.0 456.0,872.0C453.7,874.0 452.0,877.7 450.0,880.0C448.0,882.3 446.3,885.3 444.0,886.0C441.7,886.7 438.3,883.7 436.0,884.0C433.7,884.3 431.3,886.3 430.0,888.0C428.7,889.7 429.7,893.3 428.0,894.0C426.3,894.7 422.3,893.3 420.0,892.0C417.7,890.7 416.0,888.0 414.0,886.0C412.0,884.0 409.7,881.3 408.0,880.0C406.3,878.7 405.5,878.0 404.0,878.0C402.5,878.0 400.8,880.3 399.0,880.0C397.2,879.7 394.7,878.3 393.0,876.0C391.3,873.7 388.8,868.7 389.0,866.0Z" fill="#004cff" filter="url(#r1)"/>
<path d="M416.0,812.0C418.3,810.0 421.0,808.3 424.0,808.0C427.0,807.7 431.3,808.7 434.0,810.0C436.7,811.3 438.3,813.7 440.0,816.0C441.7,818.3 443.0,821.0 444.0,824.0C445.0,827.0 446.3,831.0 446.0,834.0C445.7,837.0 444.0,839.7 442.0,842.0C440.0,844.3 436.7,846.7 434.0,848.0C431.3,849.3 429.0,850.0 426.0,850.0C423.0,850.0 418.7,849.7 416.0,848.0C413.3,846.3 411.3,843.0 410.0,840.0C408.7,837.0 408.0,833.3 408.0,830.0C408.0,826.7 408.7,823.0 410.0,820.0C411.3,817.0 413.7,814.0 416.0,812.0Z" fill="#0000f3" filter="url(#r1)"/>
<path d="M315.0,811.0C315.0,807.8 316.0,804.3 317.0,801.0C318.0,797.7 319.7,794.7 321.0,791.0C322.3,787.3 324.0,782.0 325.0,779.0C326.0,776.0 325.7,775.0 327.0,773.0C328.3,771.0 331.3,769.0 333.0,767.0C334.7,765.0 335.0,762.3 337.0,761.0C339.0,759.7 342.3,760.0 345.0,759.0C347.7,758.0 350.3,755.8 353.0,755.0C355.7,754.2 358.3,754.0 361.0,754.0C363.7,754.0 366.3,754.5 369.0,755.0C371.7,755.5 374.3,756.0 377.0,757.0C379.7,758.0 382.7,759.3 385.0,761.0C387.3,762.7 389.0,764.7 391.0,767.0C393.0,769.3 395.0,772.7 397.0,775.0C399.0,777.3 400.8,779.8 403.0,781.0C405.2,782.2 407.8,780.0 410.0,782.0C412.2,784.0 414.0,789.8 416.0,793.0C418.0,796.2 421.7,798.3 422.0,801.0C422.3,803.7 419.7,807.0 418.0,809.0C416.3,811.0 414.0,810.5 412.0,813.0C410.0,815.5 407.3,820.5 406.0,824.0C404.7,827.5 403.8,829.7 404.0,834.0C404.2,838.3 406.8,845.7 407.0,850.0C407.2,854.3 406.3,858.0 405.0,860.0C403.7,862.0 401.0,862.0 399.0,862.0C397.0,862.0 395.0,861.0 393.0,860.0C391.0,859.0 389.0,857.0 387.0,856.0C385.0,855.0 383.0,853.3 381.0,854.0C379.0,854.7 377.0,858.7 375.0,860.0C373.0,861.3 371.3,862.0 369.0,862.0C366.7,862.0 363.7,861.0 361.0,860.0C358.3,859.0 355.0,856.0 353.0,856.0C351.0,856.0 351.0,859.0 349.0,860.0C347.0,861.0 343.3,862.7 341.0,862.0C338.7,861.3 336.7,858.0 335.0,856.0C333.3,854.0 332.3,852.0 331.0,850.0C329.7,848.0 328.7,845.7 327.0,844.0C325.3,842.3 322.0,842.3 321.0,840.0C320.0,837.7 321.7,833.3 321.0,830.0C320.3,826.7 318.0,823.2 317.0,820.0C316.0,816.8 315.0,814.2 315.0,811.0Z" fill="#000080" filter="url(#r0)"/>
<path d="M373.0,870.0C374.0,869.0 378.3,871.7 381.0,872.0C383.7,872.3 387.3,871.3 389.0,872.0C390.7,872.7 391.7,874.7 391.0,876.0C390.3,877.3 387.0,879.0 385.0,880.0C383.0,881.0 380.7,882.3 379.0,882.0C377.3,881.7 376.0,880.0 375.0,878.0C374.0,876.0 372.0,871.0 373.0,870.0Z" fill="#7bff7b" filter="url(#r1)"/>
</g>
<rect x="305.6" y="713.0" width="202.8" height="188.2" fill="none" stroke="#3a3a3a" stroke-width="0.8"/>
<line x1="325.2" y1="901.2" x2="325.2" y2="904.0" stroke="#3a3a3a" stroke-width="0.8"/>
<text x="325.20" y="911.80" font-size="7.24" text-anchor="middle" textLength="18.40" lengthAdjust="spacingAndGlyphs" stroke="#1e1e1e" stroke-width="0.2">−100</text>
<line x1="366.0" y1="901.2" x2="366.0" y2="904.0" stroke="#3a3a3a" stroke-width="0.8"/>
<text x="366.00" y="911.80" font-size="7.24" text-anchor="middle" textLength="14.14" lengthAdjust="spacingAndGlyphs" stroke="#1e1e1e" stroke-width="0.2">−50</text>
<line x1="406.8" y1="901.2" x2="406.8" y2="904.0" stroke="#3a3a3a" stroke-width="0.8"/>
<text x="406.80" y="911.80" font-size="7.24" text-anchor="middle" textLength="4.26" lengthAdjust="spacingAndGlyphs" stroke="#1e1e1e" stroke-width="0.2">0</text>
<line x1="447.6" y1="901.2" x2="447.6" y2="904.0" stroke="#3a3a3a" stroke-width="0.8"/>
<text x="447.60" y="911.80" font-size="7.24" text-anchor="middle" textLength="8.52" lengthAdjust="spacingAndGlyphs" stroke="#1e1e1e" stroke-width="0.2">50</text>
<line x1="488.4" y1="901.2" x2="488.4" y2="904.0" stroke="#3a3a3a" stroke-width="0.8"/>
<text x="488.40" y="911.80" font-size="7.24" text-anchor="middle" textLength="12.78" lengthAdjust="spacingAndGlyphs" stroke="#1e1e1e" stroke-width="0.2">100</text>
<line x1="302.8" y1="731.0" x2="305.6" y2="731.0" stroke="#3a3a3a" stroke-width="0.8"/>
<text x="300.30" y="733.81" font-size="7.24" text-anchor="end" textLength="12.78" lengthAdjust="spacingAndGlyphs" stroke="#1e1e1e" stroke-width="0.2">100</text>
<line x1="302.8" y1="769.2" x2="305.6" y2="769.2" stroke="#3a3a3a" stroke-width="0.8"/>
<text x="300.30" y="772.01" font-size="7.24" text-anchor="end" textLength="8.52" lengthAdjust="spacingAndGlyphs" stroke="#1e1e1e" stroke-width="0.2">50</text>
<line x1="302.8" y1="807.4" x2="305.6" y2="807.4" stroke="#3a3a3a" stroke-width="0.8"/>
<text x="300.30" y="810.21" font-size="7.24" text-anchor="end" textLength="4.26" lengthAdjust="spacingAndGlyphs" stroke="#1e1e1e" stroke-width="0.2">0</text>
<line x1="302.8" y1="845.6" x2="305.6" y2="845.6" stroke="#3a3a3a" stroke-width="0.8"/>
<text x="300.30" y="848.41" font-size="7.24" text-anchor="end" textLength="14.14" lengthAdjust="spacingAndGlyphs" stroke="#1e1e1e" stroke-width="0.2">−50</text>
<line x1="302.8" y1="883.8" x2="305.6" y2="883.8" stroke="#3a3a3a" stroke-width="0.8"/>
<text x="300.30" y="886.61" font-size="7.24" text-anchor="end" textLength="18.40" lengthAdjust="spacingAndGlyphs" stroke="#1e1e1e" stroke-width="0.2">−100</text>
<rect x="521.0" y="713.00" width="10.0" height="17.41" fill="#800000"/>
<line x1="531.0" y1="721.55" x2="533.8" y2="721.55" stroke="#3a3a3a" stroke-width="0.8"/>
<text x="535.80" y="724.37" font-size="7.24" text-anchor="start" textLength="8.52" lengthAdjust="spacingAndGlyphs" stroke="#1e1e1e" stroke-width="0.2">11</text>
<rect x="521.0" y="730.11" width="10.0" height="17.41" fill="#f30900"/>
<line x1="531.0" y1="738.66" x2="533.8" y2="738.66" stroke="#3a3a3a" stroke-width="0.8"/>
<text x="535.80" y="741.48" font-size="7.24" text-anchor="start" textLength="8.52" lengthAdjust="spacingAndGlyphs" stroke="#1e1e1e" stroke-width="0.2">10</text>
<rect x="521.0" y="747.22" width="10.0" height="17.41" fill="#ff6800"/>
<line x1="531.0" y1="755.77" x2="533.8" y2="755.77" stroke="#3a3a3a" stroke-width="0.8"/>
<text x="535.80" y="758.59" font-size="7.24" text-anchor="start" textLength="4.26" lengthAdjust="spacingAndGlyphs" stroke="#1e1e1e" stroke-width="0.2">9</text>
<rect x="521.0" y="764.33" width="10.0" height="17.41" fill="#ffc600"/>
<line x1="531.0" y1="772.88" x2="533.8" y2="772.88" stroke="#3a3a3a" stroke-width="0.8"/>
<text x="535.80" y="775.70" font-size="7.24" text-anchor="start" textLength="4.26" lengthAdjust="spacingAndGlyphs" stroke="#1e1e1e" stroke-width="0.2">8</text>
<rect x="521.0" y="781.44" width="10.0" height="17.41" fill="#ceff29"/>
<line x1="531.0" y1="789.99" x2="533.8" y2="789.99" stroke="#3a3a3a" stroke-width="0.8"/>
<text x="535.80" y="792.80" font-size="7.24" text-anchor="start" textLength="4.26" lengthAdjust="spacingAndGlyphs" stroke="#1e1e1e" stroke-width="0.2">7</text>
<rect x="521.0" y="798.55" width="10.0" height="17.41" fill="#7bff7b"/>
<line x1="531.0" y1="807.10" x2="533.8" y2="807.10" stroke="#3a3a3a" stroke-width="0.8"/>
<text x="535.80" y="809.91" font-size="7.24" text-anchor="start" textLength="4.26" lengthAdjust="spacingAndGlyphs" stroke="#1e1e1e" stroke-width="0.2">6</text>
<rect x="521.0" y="815.65" width="10.0" height="17.41" fill="#29ffce"/>
<line x1="531.0" y1="824.21" x2="533.8" y2="824.21" stroke="#3a3a3a" stroke-width="0.8"/>
<text x="535.80" y="827.02" font-size="7.24" text-anchor="start" textLength="4.26" lengthAdjust="spacingAndGlyphs" stroke="#1e1e1e" stroke-width="0.2">5</text>
<rect x="521.0" y="832.76" width="10.0" height="17.41" fill="#00b3ff"/>
<line x1="531.0" y1="841.32" x2="533.8" y2="841.32" stroke="#3a3a3a" stroke-width="0.8"/>
<text x="535.80" y="844.13" font-size="7.24" text-anchor="start" textLength="4.26" lengthAdjust="spacingAndGlyphs" stroke="#1e1e1e" stroke-width="0.2">4</text>
<rect x="521.0" y="849.87" width="10.0" height="17.41" fill="#004cff"/>
<line x1="531.0" y1="858.43" x2="533.8" y2="858.43" stroke="#3a3a3a" stroke-width="0.8"/>
<text x="535.80" y="861.24" font-size="7.24" text-anchor="start" textLength="4.26" lengthAdjust="spacingAndGlyphs" stroke="#1e1e1e" stroke-width="0.2">3</text>
<rect x="521.0" y="866.98" width="10.0" height="17.41" fill="#0000f3"/>
<line x1="531.0" y1="875.54" x2="533.8" y2="875.54" stroke="#3a3a3a" stroke-width="0.8"/>
<text x="535.80" y="878.35" font-size="7.24" text-anchor="start" textLength="4.26" lengthAdjust="spacingAndGlyphs" stroke="#1e1e1e" stroke-width="0.2">2</text>
<rect x="521.0" y="884.09" width="10.0" height="17.41" fill="#000080"/>
<line x1="531.0" y1="892.65" x2="533.8" y2="892.65" stroke="#3a3a3a" stroke-width="0.8"/>
<text x="535.80" y="895.46" font-size="7.24" text-anchor="start" textLength="4.26" lengthAdjust="spacingAndGlyphs" stroke="#1e1e1e" stroke-width="0.2">1</text>
<rect x="521.0" y="713.0" width="10.0" height="188.2" fill="none" stroke="#3a3a3a" stroke-width="0.6"/>
<text x="406.8" y="928.6" font-size="18" text-anchor="middle" font-family="Liberation Serif, serif" fill="#1a1a1a">(h)</text>
</svg>
</body></html>
